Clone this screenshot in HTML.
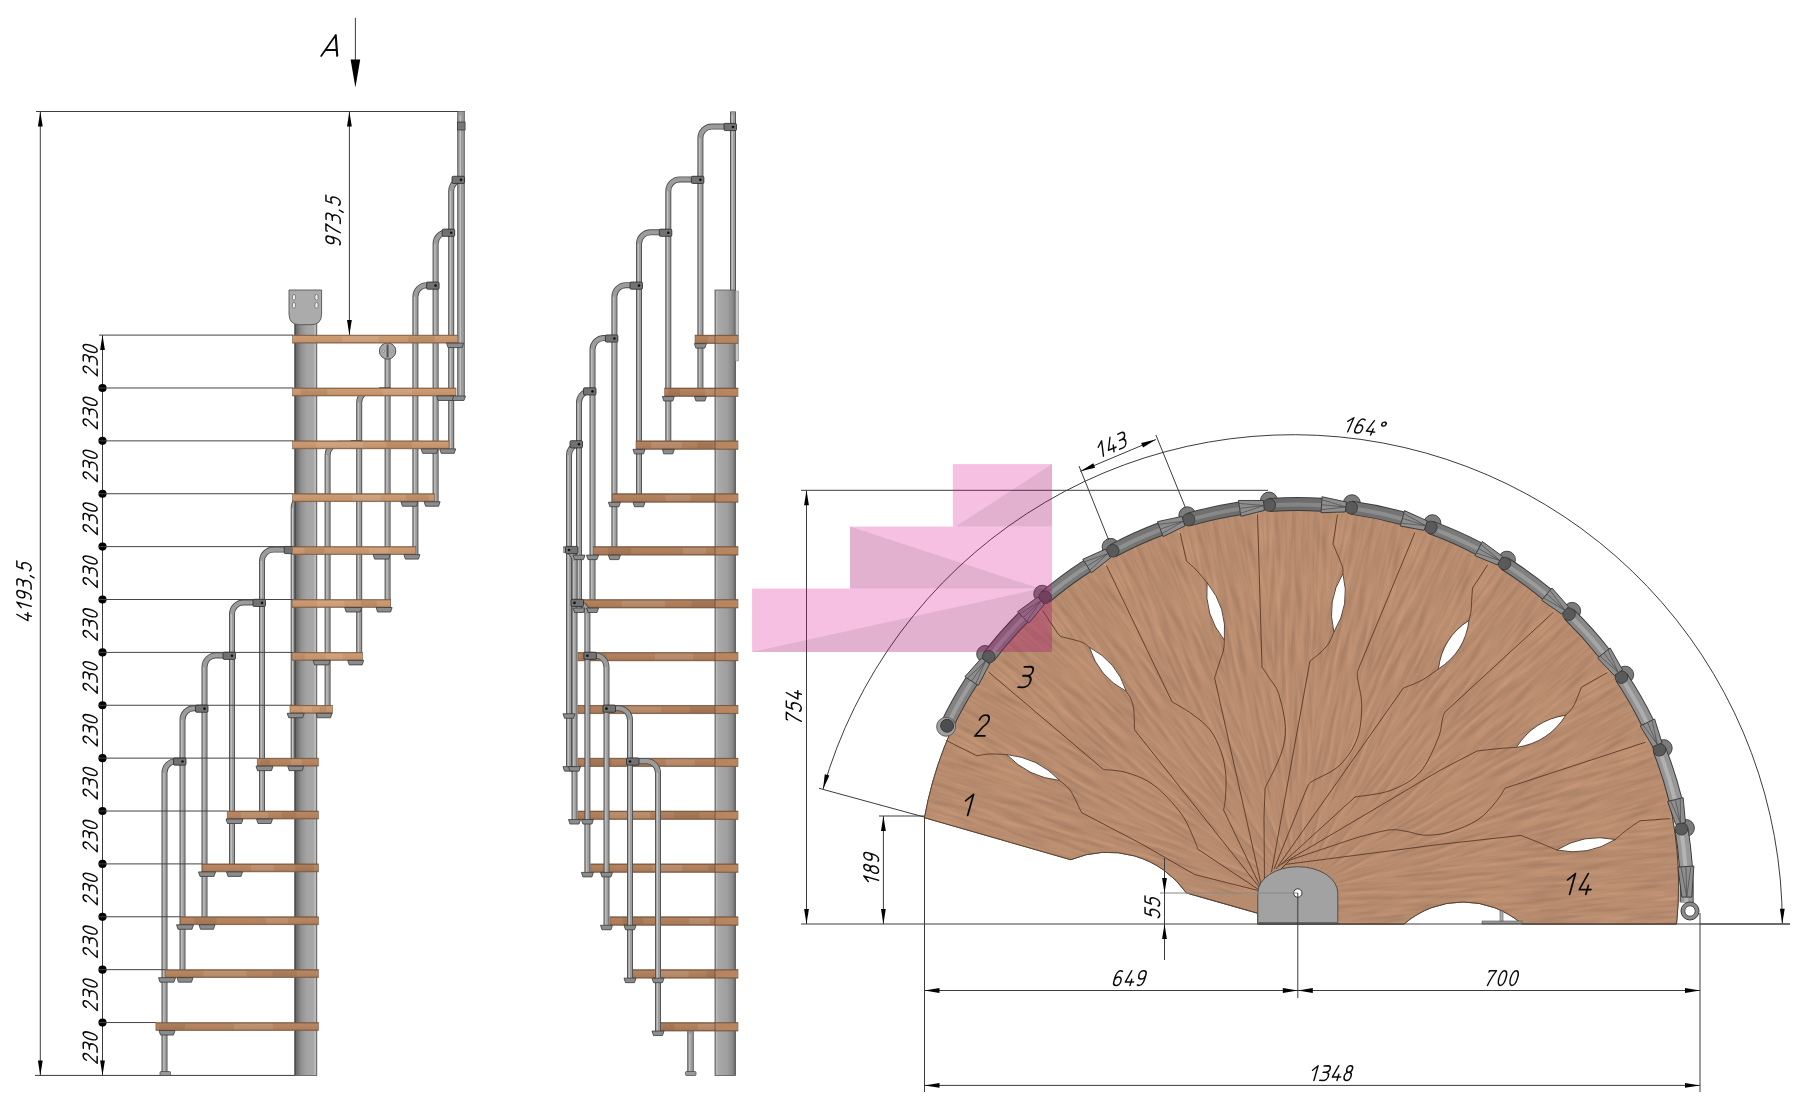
<!DOCTYPE html><html><head><meta charset="utf-8"><title>Spiral staircase drawing</title><style>html,body{margin:0;padding:0;background:#fff;overflow:hidden;font-family:"Liberation Sans",sans-serif}svg{display:block}</style></head><body><svg width="1800" height="1113" viewBox="0 0 1800 1113"><defs>
<linearGradient id="gpole" x1="0" x2="1" y1="0" y2="0">
 <stop offset="0" stop-color="#333"/><stop offset="0.07" stop-color="#6a6a6a"/>
 <stop offset="0.3" stop-color="#919191"/><stop offset="0.55" stop-color="#a4a4a4"/>
 <stop offset="0.86" stop-color="#a8a8a8"/><stop offset="0.9" stop-color="#bababa"/>
 <stop offset="0.96" stop-color="#b6b6b6"/><stop offset="1" stop-color="#666"/>
</linearGradient>
<linearGradient id="gpole2" x1="0" x2="1" y1="0" y2="0">
 <stop offset="0" stop-color="#6a6a6a"/><stop offset="0.05" stop-color="#bcbcbc"/>
 <stop offset="0.16" stop-color="#a9a9a9"/><stop offset="0.6" stop-color="#9e9e9e"/>
 <stop offset="0.85" stop-color="#8a8a8a"/><stop offset="0.95" stop-color="#737373"/>
 <stop offset="1" stop-color="#3e3e3e"/>
</linearGradient>
<linearGradient id="grod" x1="0" x2="1" y1="0" y2="0">
 <stop offset="0" stop-color="#555"/><stop offset="0.25" stop-color="#9c9c9c"/>
 <stop offset="0.5" stop-color="#c4c4c4"/><stop offset="0.8" stop-color="#8e8e8e"/>
 <stop offset="1" stop-color="#4a4a4a"/>
</linearGradient>
<linearGradient id="gstep" x1="0" x2="0" y1="0" y2="1">
 <stop offset="0" stop-color="#7e5a3e"/><stop offset="0.18" stop-color="#cc9b72"/>
 <stop offset="0.8" stop-color="#c4936b"/><stop offset="1" stop-color="#8a6446"/>
</linearGradient>
<linearGradient id="gstep3" x1="0" x2="0" y1="0" y2="1">
 <stop offset="0" stop-color="#6e4d35"/><stop offset="0.18" stop-color="#b88762"/>
 <stop offset="0.8" stop-color="#b0805c"/><stop offset="1" stop-color="#7c5a40"/>
</linearGradient>
<linearGradient id="gstep2" x1="0" x2="0" y1="0" y2="1">
 <stop offset="0" stop-color="#684832"/><stop offset="0.18" stop-color="#b3835f"/>
 <stop offset="0.8" stop-color="#ab7b59"/><stop offset="1" stop-color="#78563e"/>
</linearGradient>
<linearGradient id="grail" gradientUnits="userSpaceOnUse" x1="920" y1="0" x2="1710" y2="0">
 <stop offset="0" stop-color="#858585"/><stop offset="0.45" stop-color="#6a6a6a"/>
 <stop offset="0.75" stop-color="#7e7e7e"/><stop offset="1" stop-color="#9c9c9c"/>
</linearGradient>
<linearGradient id="grailh" gradientUnits="userSpaceOnUse" x1="920" y1="0" x2="1710" y2="0">
 <stop offset="0" stop-color="#a0a0a0"/><stop offset="0.45" stop-color="#838383"/>
 <stop offset="0.75" stop-color="#989898"/><stop offset="1" stop-color="#b8b8b8"/>
</linearGradient>
</defs><line x1="36.00" y1="111.50" x2="464.70" y2="111.50" stroke="#3c3c3c" stroke-width="1.0"/><line x1="40.30" y1="111.50" x2="40.30" y2="1075.42" stroke="#3c3c3c" stroke-width="1.0"/><polygon points="40.30,111.50 42.70,126.50 37.90,126.50" fill="#000"/><polygon points="40.30,1075.42 37.90,1060.42 42.70,1060.42" fill="#000"/><g fill="none" stroke="#0a0a0a" stroke-width="1.049" stroke-linecap="round" stroke-linejoin="round" transform="rotate(-90 24.00 591.00)"><path d="M2.2,10 L0,2.3 L5.6,2.3 M3.8,4.3 L3.8,0" transform="matrix(1.4300,0,0.4004,-1.4300,-6.60,598.15)"/><path d="M0,7.0 L2.9,10 L2.9,0" transform="matrix(1.4300,0,0.4004,-1.4300,4.70,598.15)"/><path d="M0.8,0.4 C1.2,0.1 1.7,0 2.2,0 C3.8,0 4.7,2 4.7,5 L4.7,7.3 C4.7,9 3.7,10 2.4,10 C1,10 0,9 0,7.3 C0,5.6 1,4.4 2.3,4.4 C3.6,4.4 4.6,5.3 4.7,6.7" transform="matrix(1.4300,0,0.4004,-1.4300,14.56,598.15)"/><path d="M0.1,9.9 L2.7,10 C4.1,10 4.8,9 4.8,7.8 C4.8,6.5 3.8,5.6 2.4,5.6 L0.7,5.6 M2.4,5.6 C4,5.6 5,4.5 5,2.8 C5,1 3.8,0 2.2,0 L-0.1,0.1" transform="matrix(1.4300,0,0.4004,-1.4300,25.86,598.15)"/><path d="M1.3,0.6 L0.5,-2" transform="matrix(1.4300,0,0.4004,-1.4300,37.16,598.15)"/><path d="M0.5,10 L0.2,5.7 C0.8,6.3 1.6,6.6 2.4,6.6 C3.8,6.6 4.8,5.3 4.8,3.3 C4.8,1.3 3.7,0 2.3,0 C1.3,0 0.5,0.4 0,1.1 M0.5,10 L4.4,10" transform="matrix(1.4300,0,0.4004,-1.4300,43.73,598.15)"/></g><line x1="35.00" y1="1075.42" x2="295.00" y2="1075.42" stroke="#3c3c3c" stroke-width="1.0"/><line x1="102.50" y1="335.10" x2="102.50" y2="1075.42" stroke="#3c3c3c" stroke-width="1.0"/><polygon points="102.50,335.10 104.90,350.10 100.10,350.10" fill="#000"/><polygon points="102.50,1075.42 100.10,1060.42 104.90,1060.42" fill="#000"/><circle cx="102.50" cy="387.98" r="4.1" fill="#000"/><circle cx="102.50" cy="440.86" r="4.1" fill="#000"/><circle cx="102.50" cy="493.74" r="4.1" fill="#000"/><circle cx="102.50" cy="546.62" r="4.1" fill="#000"/><circle cx="102.50" cy="599.50" r="4.1" fill="#000"/><circle cx="102.50" cy="652.38" r="4.1" fill="#000"/><circle cx="102.50" cy="705.26" r="4.1" fill="#000"/><circle cx="102.50" cy="758.14" r="4.1" fill="#000"/><circle cx="102.50" cy="811.02" r="4.1" fill="#000"/><circle cx="102.50" cy="863.90" r="4.1" fill="#000"/><circle cx="102.50" cy="916.78" r="4.1" fill="#000"/><circle cx="102.50" cy="969.66" r="4.1" fill="#000"/><circle cx="102.50" cy="1022.54" r="4.1" fill="#000"/><g fill="none" stroke="#0a0a0a" stroke-width="1.071" stroke-linecap="round" stroke-linejoin="round" transform="rotate(-90 90.15 359.54)"><path d="M0.1,7.7 C0.3,9.2 1.2,10 2.4,10 C3.7,10 4.6,9.1 4.6,7.7 C4.6,6.5 3.9,5.6 2.9,4.6 L0,0 L4.8,0" transform="matrix(1.4000,0,0.3920,-1.4000,73.84,366.54)"/><path d="M0.1,9.9 L2.7,10 C4.1,10 4.8,9 4.8,7.8 C4.8,6.5 3.8,5.6 2.4,5.6 L0.7,5.6 M2.4,5.6 C4,5.6 5,4.5 5,2.8 C5,1 3.8,0 2.2,0 L-0.1,0.1" transform="matrix(1.4000,0,0.3920,-1.4000,84.90,366.54)"/><path d="M2.35,10 C1,10 0,8 0,5 C0,2 1,0 2.35,0 C3.7,0 4.7,2 4.7,5 C4.7,8 3.7,10 2.35,10 Z" transform="matrix(1.4000,0,0.3920,-1.4000,95.96,366.54)"/></g><g fill="none" stroke="#0a0a0a" stroke-width="1.071" stroke-linecap="round" stroke-linejoin="round" transform="rotate(-90 90.15 412.42)"><path d="M0.1,7.7 C0.3,9.2 1.2,10 2.4,10 C3.7,10 4.6,9.1 4.6,7.7 C4.6,6.5 3.9,5.6 2.9,4.6 L0,0 L4.8,0" transform="matrix(1.4000,0,0.3920,-1.4000,73.84,419.42)"/><path d="M0.1,9.9 L2.7,10 C4.1,10 4.8,9 4.8,7.8 C4.8,6.5 3.8,5.6 2.4,5.6 L0.7,5.6 M2.4,5.6 C4,5.6 5,4.5 5,2.8 C5,1 3.8,0 2.2,0 L-0.1,0.1" transform="matrix(1.4000,0,0.3920,-1.4000,84.90,419.42)"/><path d="M2.35,10 C1,10 0,8 0,5 C0,2 1,0 2.35,0 C3.7,0 4.7,2 4.7,5 C4.7,8 3.7,10 2.35,10 Z" transform="matrix(1.4000,0,0.3920,-1.4000,95.96,419.42)"/></g><g fill="none" stroke="#0a0a0a" stroke-width="1.071" stroke-linecap="round" stroke-linejoin="round" transform="rotate(-90 90.15 465.30)"><path d="M0.1,7.7 C0.3,9.2 1.2,10 2.4,10 C3.7,10 4.6,9.1 4.6,7.7 C4.6,6.5 3.9,5.6 2.9,4.6 L0,0 L4.8,0" transform="matrix(1.4000,0,0.3920,-1.4000,73.84,472.30)"/><path d="M0.1,9.9 L2.7,10 C4.1,10 4.8,9 4.8,7.8 C4.8,6.5 3.8,5.6 2.4,5.6 L0.7,5.6 M2.4,5.6 C4,5.6 5,4.5 5,2.8 C5,1 3.8,0 2.2,0 L-0.1,0.1" transform="matrix(1.4000,0,0.3920,-1.4000,84.90,472.30)"/><path d="M2.35,10 C1,10 0,8 0,5 C0,2 1,0 2.35,0 C3.7,0 4.7,2 4.7,5 C4.7,8 3.7,10 2.35,10 Z" transform="matrix(1.4000,0,0.3920,-1.4000,95.96,472.30)"/></g><g fill="none" stroke="#0a0a0a" stroke-width="1.071" stroke-linecap="round" stroke-linejoin="round" transform="rotate(-90 90.15 518.18)"><path d="M0.1,7.7 C0.3,9.2 1.2,10 2.4,10 C3.7,10 4.6,9.1 4.6,7.7 C4.6,6.5 3.9,5.6 2.9,4.6 L0,0 L4.8,0" transform="matrix(1.4000,0,0.3920,-1.4000,73.84,525.18)"/><path d="M0.1,9.9 L2.7,10 C4.1,10 4.8,9 4.8,7.8 C4.8,6.5 3.8,5.6 2.4,5.6 L0.7,5.6 M2.4,5.6 C4,5.6 5,4.5 5,2.8 C5,1 3.8,0 2.2,0 L-0.1,0.1" transform="matrix(1.4000,0,0.3920,-1.4000,84.90,525.18)"/><path d="M2.35,10 C1,10 0,8 0,5 C0,2 1,0 2.35,0 C3.7,0 4.7,2 4.7,5 C4.7,8 3.7,10 2.35,10 Z" transform="matrix(1.4000,0,0.3920,-1.4000,95.96,525.18)"/></g><g fill="none" stroke="#0a0a0a" stroke-width="1.071" stroke-linecap="round" stroke-linejoin="round" transform="rotate(-90 90.15 571.06)"><path d="M0.1,7.7 C0.3,9.2 1.2,10 2.4,10 C3.7,10 4.6,9.1 4.6,7.7 C4.6,6.5 3.9,5.6 2.9,4.6 L0,0 L4.8,0" transform="matrix(1.4000,0,0.3920,-1.4000,73.84,578.06)"/><path d="M0.1,9.9 L2.7,10 C4.1,10 4.8,9 4.8,7.8 C4.8,6.5 3.8,5.6 2.4,5.6 L0.7,5.6 M2.4,5.6 C4,5.6 5,4.5 5,2.8 C5,1 3.8,0 2.2,0 L-0.1,0.1" transform="matrix(1.4000,0,0.3920,-1.4000,84.90,578.06)"/><path d="M2.35,10 C1,10 0,8 0,5 C0,2 1,0 2.35,0 C3.7,0 4.7,2 4.7,5 C4.7,8 3.7,10 2.35,10 Z" transform="matrix(1.4000,0,0.3920,-1.4000,95.96,578.06)"/></g><g fill="none" stroke="#0a0a0a" stroke-width="1.071" stroke-linecap="round" stroke-linejoin="round" transform="rotate(-90 90.15 623.94)"><path d="M0.1,7.7 C0.3,9.2 1.2,10 2.4,10 C3.7,10 4.6,9.1 4.6,7.7 C4.6,6.5 3.9,5.6 2.9,4.6 L0,0 L4.8,0" transform="matrix(1.4000,0,0.3920,-1.4000,73.84,630.94)"/><path d="M0.1,9.9 L2.7,10 C4.1,10 4.8,9 4.8,7.8 C4.8,6.5 3.8,5.6 2.4,5.6 L0.7,5.6 M2.4,5.6 C4,5.6 5,4.5 5,2.8 C5,1 3.8,0 2.2,0 L-0.1,0.1" transform="matrix(1.4000,0,0.3920,-1.4000,84.90,630.94)"/><path d="M2.35,10 C1,10 0,8 0,5 C0,2 1,0 2.35,0 C3.7,0 4.7,2 4.7,5 C4.7,8 3.7,10 2.35,10 Z" transform="matrix(1.4000,0,0.3920,-1.4000,95.96,630.94)"/></g><g fill="none" stroke="#0a0a0a" stroke-width="1.071" stroke-linecap="round" stroke-linejoin="round" transform="rotate(-90 90.15 676.82)"><path d="M0.1,7.7 C0.3,9.2 1.2,10 2.4,10 C3.7,10 4.6,9.1 4.6,7.7 C4.6,6.5 3.9,5.6 2.9,4.6 L0,0 L4.8,0" transform="matrix(1.4000,0,0.3920,-1.4000,73.84,683.82)"/><path d="M0.1,9.9 L2.7,10 C4.1,10 4.8,9 4.8,7.8 C4.8,6.5 3.8,5.6 2.4,5.6 L0.7,5.6 M2.4,5.6 C4,5.6 5,4.5 5,2.8 C5,1 3.8,0 2.2,0 L-0.1,0.1" transform="matrix(1.4000,0,0.3920,-1.4000,84.90,683.82)"/><path d="M2.35,10 C1,10 0,8 0,5 C0,2 1,0 2.35,0 C3.7,0 4.7,2 4.7,5 C4.7,8 3.7,10 2.35,10 Z" transform="matrix(1.4000,0,0.3920,-1.4000,95.96,683.82)"/></g><g fill="none" stroke="#0a0a0a" stroke-width="1.071" stroke-linecap="round" stroke-linejoin="round" transform="rotate(-90 90.15 729.70)"><path d="M0.1,7.7 C0.3,9.2 1.2,10 2.4,10 C3.7,10 4.6,9.1 4.6,7.7 C4.6,6.5 3.9,5.6 2.9,4.6 L0,0 L4.8,0" transform="matrix(1.4000,0,0.3920,-1.4000,73.84,736.70)"/><path d="M0.1,9.9 L2.7,10 C4.1,10 4.8,9 4.8,7.8 C4.8,6.5 3.8,5.6 2.4,5.6 L0.7,5.6 M2.4,5.6 C4,5.6 5,4.5 5,2.8 C5,1 3.8,0 2.2,0 L-0.1,0.1" transform="matrix(1.4000,0,0.3920,-1.4000,84.90,736.70)"/><path d="M2.35,10 C1,10 0,8 0,5 C0,2 1,0 2.35,0 C3.7,0 4.7,2 4.7,5 C4.7,8 3.7,10 2.35,10 Z" transform="matrix(1.4000,0,0.3920,-1.4000,95.96,736.70)"/></g><g fill="none" stroke="#0a0a0a" stroke-width="1.071" stroke-linecap="round" stroke-linejoin="round" transform="rotate(-90 90.15 782.58)"><path d="M0.1,7.7 C0.3,9.2 1.2,10 2.4,10 C3.7,10 4.6,9.1 4.6,7.7 C4.6,6.5 3.9,5.6 2.9,4.6 L0,0 L4.8,0" transform="matrix(1.4000,0,0.3920,-1.4000,73.84,789.58)"/><path d="M0.1,9.9 L2.7,10 C4.1,10 4.8,9 4.8,7.8 C4.8,6.5 3.8,5.6 2.4,5.6 L0.7,5.6 M2.4,5.6 C4,5.6 5,4.5 5,2.8 C5,1 3.8,0 2.2,0 L-0.1,0.1" transform="matrix(1.4000,0,0.3920,-1.4000,84.90,789.58)"/><path d="M2.35,10 C1,10 0,8 0,5 C0,2 1,0 2.35,0 C3.7,0 4.7,2 4.7,5 C4.7,8 3.7,10 2.35,10 Z" transform="matrix(1.4000,0,0.3920,-1.4000,95.96,789.58)"/></g><g fill="none" stroke="#0a0a0a" stroke-width="1.071" stroke-linecap="round" stroke-linejoin="round" transform="rotate(-90 90.15 835.46)"><path d="M0.1,7.7 C0.3,9.2 1.2,10 2.4,10 C3.7,10 4.6,9.1 4.6,7.7 C4.6,6.5 3.9,5.6 2.9,4.6 L0,0 L4.8,0" transform="matrix(1.4000,0,0.3920,-1.4000,73.84,842.46)"/><path d="M0.1,9.9 L2.7,10 C4.1,10 4.8,9 4.8,7.8 C4.8,6.5 3.8,5.6 2.4,5.6 L0.7,5.6 M2.4,5.6 C4,5.6 5,4.5 5,2.8 C5,1 3.8,0 2.2,0 L-0.1,0.1" transform="matrix(1.4000,0,0.3920,-1.4000,84.90,842.46)"/><path d="M2.35,10 C1,10 0,8 0,5 C0,2 1,0 2.35,0 C3.7,0 4.7,2 4.7,5 C4.7,8 3.7,10 2.35,10 Z" transform="matrix(1.4000,0,0.3920,-1.4000,95.96,842.46)"/></g><g fill="none" stroke="#0a0a0a" stroke-width="1.071" stroke-linecap="round" stroke-linejoin="round" transform="rotate(-90 90.15 888.34)"><path d="M0.1,7.7 C0.3,9.2 1.2,10 2.4,10 C3.7,10 4.6,9.1 4.6,7.7 C4.6,6.5 3.9,5.6 2.9,4.6 L0,0 L4.8,0" transform="matrix(1.4000,0,0.3920,-1.4000,73.84,895.34)"/><path d="M0.1,9.9 L2.7,10 C4.1,10 4.8,9 4.8,7.8 C4.8,6.5 3.8,5.6 2.4,5.6 L0.7,5.6 M2.4,5.6 C4,5.6 5,4.5 5,2.8 C5,1 3.8,0 2.2,0 L-0.1,0.1" transform="matrix(1.4000,0,0.3920,-1.4000,84.90,895.34)"/><path d="M2.35,10 C1,10 0,8 0,5 C0,2 1,0 2.35,0 C3.7,0 4.7,2 4.7,5 C4.7,8 3.7,10 2.35,10 Z" transform="matrix(1.4000,0,0.3920,-1.4000,95.96,895.34)"/></g><g fill="none" stroke="#0a0a0a" stroke-width="1.071" stroke-linecap="round" stroke-linejoin="round" transform="rotate(-90 90.15 941.22)"><path d="M0.1,7.7 C0.3,9.2 1.2,10 2.4,10 C3.7,10 4.6,9.1 4.6,7.7 C4.6,6.5 3.9,5.6 2.9,4.6 L0,0 L4.8,0" transform="matrix(1.4000,0,0.3920,-1.4000,73.84,948.22)"/><path d="M0.1,9.9 L2.7,10 C4.1,10 4.8,9 4.8,7.8 C4.8,6.5 3.8,5.6 2.4,5.6 L0.7,5.6 M2.4,5.6 C4,5.6 5,4.5 5,2.8 C5,1 3.8,0 2.2,0 L-0.1,0.1" transform="matrix(1.4000,0,0.3920,-1.4000,84.90,948.22)"/><path d="M2.35,10 C1,10 0,8 0,5 C0,2 1,0 2.35,0 C3.7,0 4.7,2 4.7,5 C4.7,8 3.7,10 2.35,10 Z" transform="matrix(1.4000,0,0.3920,-1.4000,95.96,948.22)"/></g><g fill="none" stroke="#0a0a0a" stroke-width="1.071" stroke-linecap="round" stroke-linejoin="round" transform="rotate(-90 90.15 994.10)"><path d="M0.1,7.7 C0.3,9.2 1.2,10 2.4,10 C3.7,10 4.6,9.1 4.6,7.7 C4.6,6.5 3.9,5.6 2.9,4.6 L0,0 L4.8,0" transform="matrix(1.4000,0,0.3920,-1.4000,73.84,1001.10)"/><path d="M0.1,9.9 L2.7,10 C4.1,10 4.8,9 4.8,7.8 C4.8,6.5 3.8,5.6 2.4,5.6 L0.7,5.6 M2.4,5.6 C4,5.6 5,4.5 5,2.8 C5,1 3.8,0 2.2,0 L-0.1,0.1" transform="matrix(1.4000,0,0.3920,-1.4000,84.90,1001.10)"/><path d="M2.35,10 C1,10 0,8 0,5 C0,2 1,0 2.35,0 C3.7,0 4.7,2 4.7,5 C4.7,8 3.7,10 2.35,10 Z" transform="matrix(1.4000,0,0.3920,-1.4000,95.96,1001.10)"/></g><g fill="none" stroke="#0a0a0a" stroke-width="1.071" stroke-linecap="round" stroke-linejoin="round" transform="rotate(-90 90.15 1046.98)"><path d="M0.1,7.7 C0.3,9.2 1.2,10 2.4,10 C3.7,10 4.6,9.1 4.6,7.7 C4.6,6.5 3.9,5.6 2.9,4.6 L0,0 L4.8,0" transform="matrix(1.4000,0,0.3920,-1.4000,73.84,1053.98)"/><path d="M0.1,9.9 L2.7,10 C4.1,10 4.8,9 4.8,7.8 C4.8,6.5 3.8,5.6 2.4,5.6 L0.7,5.6 M2.4,5.6 C4,5.6 5,4.5 5,2.8 C5,1 3.8,0 2.2,0 L-0.1,0.1" transform="matrix(1.4000,0,0.3920,-1.4000,84.90,1053.98)"/><path d="M2.35,10 C1,10 0,8 0,5 C0,2 1,0 2.35,0 C3.7,0 4.7,2 4.7,5 C4.7,8 3.7,10 2.35,10 Z" transform="matrix(1.4000,0,0.3920,-1.4000,95.96,1053.98)"/></g><line x1="349.40" y1="111.50" x2="349.40" y2="335.10" stroke="#3c3c3c" stroke-width="1.0"/><polygon points="349.40,111.50 351.80,126.50 347.00,126.50" fill="#000"/><polygon points="349.40,335.10 347.00,320.10 351.80,320.10" fill="#000"/><g fill="none" stroke="#0a0a0a" stroke-width="1.049" stroke-linecap="round" stroke-linejoin="round" transform="rotate(-90 333.10 220.40)"><path d="M0.8,0.4 C1.2,0.1 1.7,0 2.2,0 C3.8,0 4.7,2 4.7,5 L4.7,7.3 C4.7,9 3.7,10 2.4,10 C1,10 0,9 0,7.3 C0,5.6 1,4.4 2.3,4.4 C3.6,4.4 4.6,5.3 4.7,6.7" transform="matrix(1.4300,0,0.4004,-1.4300,307.43,227.55)"/><path d="M0,9.2 L0,10 L4.8,10 C3.4,7 2.1,3.7 1.5,0" transform="matrix(1.4300,0,0.4004,-1.4300,318.73,227.55)"/><path d="M0.1,9.9 L2.7,10 C4.1,10 4.8,9 4.8,7.8 C4.8,6.5 3.8,5.6 2.4,5.6 L0.7,5.6 M2.4,5.6 C4,5.6 5,4.5 5,2.8 C5,1 3.8,0 2.2,0 L-0.1,0.1" transform="matrix(1.4300,0,0.4004,-1.4300,330.03,227.55)"/><path d="M1.3,0.6 L0.5,-2" transform="matrix(1.4300,0,0.4004,-1.4300,341.32,227.55)"/><path d="M0.5,10 L0.2,5.7 C0.8,6.3 1.6,6.6 2.4,6.6 C3.8,6.6 4.8,5.3 4.8,3.3 C4.8,1.3 3.7,0 2.3,0 C1.3,0 0.5,0.4 0,1.1 M0.5,10 L4.4,10" transform="matrix(1.4300,0,0.4004,-1.4300,347.90,227.55)"/></g><line x1="355.40" y1="17.80" x2="355.40" y2="62.00" stroke="#3c3c3c" stroke-width="1.0"/><polygon points="355.40,87.50 350.60,59.50 360.20,59.50" fill="#000"/><g fill="none" stroke="#0a0a0a" stroke-width="0.966" stroke-linecap="round" stroke-linejoin="round"><path d="M0,0 L4.16,10 L7.7,0 M1.16,2.8 L6.7,2.8" transform="matrix(2.0700,0,0.5796,-2.0700,321.28,55.80)"/></g><path d="M293.20,768.72 L293.20,507.74 A11.5,11.5 0 0 1 304.70,496.24 L327.60,496.24" fill="none" stroke="#4e4e4e" stroke-width="5.0" stroke-linecap="butt"/><path d="M293.20,768.72 L293.20,507.74 A11.5,11.5 0 0 1 304.70,496.24 L327.60,496.24" fill="none" stroke="#9c9c9c" stroke-width="3.20" stroke-linecap="butt"/><line x1="292.50" y1="507.74" x2="292.50" y2="768.72" stroke="#c4c4c4" stroke-width="1.2"/><rect x="294.70" y="318.00" width="22.10" height="757.42" fill="url(#gpole)" stroke="#555" stroke-width="0.8"/><path d="M289,290 L321.6,290 L321.6,314 Q321.6,324.7 311,324.7 L299.6,324.7 Q289,324.7 289,314 Z" fill="#ababab" stroke="#555" stroke-width="0.9"/><rect x="292.5" y="294.5" width="3" height="5.5" rx="1.5" fill="#eee" stroke="#555" stroke-width="0.6"/><rect x="292.5" y="302.5" width="3" height="5.5" rx="1.5" fill="#eee" stroke="#555" stroke-width="0.6"/><rect x="315.0" y="294.5" width="3" height="5.5" rx="1.5" fill="#eee" stroke="#555" stroke-width="0.6"/><rect x="315.0" y="302.5" width="3" height="5.5" rx="1.5" fill="#eee" stroke="#555" stroke-width="0.6"/><path d="M461.00,398.00 L461.00,111.50" fill="none" stroke="#4e4e4e" stroke-width="7.5" stroke-linecap="butt"/><path d="M461.00,398.00 L461.00,111.50" fill="none" stroke="#9c9c9c" stroke-width="5.70" stroke-linecap="butt"/><line x1="460.30" y1="115.25" x2="460.30" y2="398.00" stroke="#c4c4c4" stroke-width="1.2"/><rect x="457.6" y="122" width="7.5" height="8" fill="#777" stroke="#333" stroke-width="0.7"/><path d="M451.20,451.44 L451.20,190.96 A11.5,11.5 0 0 1 462.70,179.46 L461.00,179.46" fill="none" stroke="#4e4e4e" stroke-width="6" stroke-linecap="butt"/><path d="M451.20,451.44 L451.20,190.96 A11.5,11.5 0 0 1 462.70,179.46 L461.00,179.46" fill="none" stroke="#9c9c9c" stroke-width="4.20" stroke-linecap="butt"/><line x1="450.50" y1="190.96" x2="450.50" y2="451.44" stroke="#c4c4c4" stroke-width="1.2"/><rect x="452.00" y="176.26" width="12.50" height="7.20" rx="1.2" fill="#727272" stroke="#2a2a2a" stroke-width="0.8"/><circle cx="461.00" cy="179.86" r="1.3" fill="#111"/><path d="M435.60,504.32 L435.60,243.84 A11.5,11.5 0 0 1 447.10,232.34 L451.20,232.34" fill="none" stroke="#4e4e4e" stroke-width="6" stroke-linecap="butt"/><path d="M435.60,504.32 L435.60,243.84 A11.5,11.5 0 0 1 447.10,232.34 L451.20,232.34" fill="none" stroke="#9c9c9c" stroke-width="4.20" stroke-linecap="butt"/><line x1="434.90" y1="243.84" x2="434.90" y2="504.32" stroke="#c4c4c4" stroke-width="1.2"/><rect x="442.20" y="229.14" width="12.50" height="7.20" rx="1.2" fill="#727272" stroke="#2a2a2a" stroke-width="0.8"/><circle cx="451.20" cy="232.74" r="1.3" fill="#111"/><path d="M415.40,557.20 L415.40,296.72 A11.5,11.5 0 0 1 426.90,285.22 L435.60,285.22" fill="none" stroke="#4e4e4e" stroke-width="6" stroke-linecap="butt"/><path d="M415.40,557.20 L415.40,296.72 A11.5,11.5 0 0 1 426.90,285.22 L435.60,285.22" fill="none" stroke="#9c9c9c" stroke-width="4.20" stroke-linecap="butt"/><line x1="414.70" y1="296.72" x2="414.70" y2="557.20" stroke="#c4c4c4" stroke-width="1.2"/><rect x="426.60" y="282.02" width="12.50" height="7.20" rx="1.2" fill="#727272" stroke="#2a2a2a" stroke-width="0.8"/><circle cx="435.60" cy="285.62" r="1.3" fill="#111"/><path d="M387.60,610.08 L387.60,351.00" fill="none" stroke="#4e4e4e" stroke-width="6" stroke-linecap="butt"/><path d="M387.60,610.08 L387.60,351.00" fill="none" stroke="#9c9c9c" stroke-width="4.20" stroke-linecap="butt"/><line x1="386.90" y1="354.00" x2="386.90" y2="610.08" stroke="#c4c4c4" stroke-width="1.2"/><circle cx="387.6" cy="351" r="8.2" fill="#a9a9a9" stroke="#444" stroke-width="0.9"/><rect x="386.6" y="344.5" width="2" height="13" fill="#555"/><circle cx="383.3" cy="351" r="1.1" fill="#eee" stroke="#444" stroke-width="0.4"/><circle cx="391.90000000000003" cy="351" r="1.1" fill="#eee" stroke="#444" stroke-width="0.4"/><path d="M359.20,662.96 L359.20,402.48 A11.5,11.5 0 0 1 370.70,390.98 L387.60,390.98" fill="none" stroke="#4e4e4e" stroke-width="6" stroke-linecap="butt"/><path d="M359.20,662.96 L359.20,402.48 A11.5,11.5 0 0 1 370.70,390.98 L387.60,390.98" fill="none" stroke="#9c9c9c" stroke-width="4.20" stroke-linecap="butt"/><line x1="358.50" y1="402.48" x2="358.50" y2="662.96" stroke="#c4c4c4" stroke-width="1.2"/><rect x="378.60" y="387.78" width="12.50" height="7.20" rx="1.2" fill="#727272" stroke="#2a2a2a" stroke-width="0.8"/><circle cx="387.60" cy="391.38" r="1.3" fill="#111"/><path d="M327.60,715.84 L327.60,455.36 A11.5,11.5 0 0 1 339.10,443.86 L359.20,443.86" fill="none" stroke="#4e4e4e" stroke-width="6" stroke-linecap="butt"/><path d="M327.60,715.84 L327.60,455.36 A11.5,11.5 0 0 1 339.10,443.86 L359.20,443.86" fill="none" stroke="#9c9c9c" stroke-width="4.20" stroke-linecap="butt"/><line x1="326.90" y1="455.36" x2="326.90" y2="715.84" stroke="#c4c4c4" stroke-width="1.2"/><rect x="350.20" y="440.66" width="12.50" height="7.20" rx="1.2" fill="#727272" stroke="#2a2a2a" stroke-width="0.8"/><circle cx="359.20" cy="444.26" r="1.3" fill="#111"/><path d="M262.00,821.60 L262.00,561.12 A11.5,11.5 0 0 1 273.50,549.62 L293.20,549.62" fill="none" stroke="#4e4e4e" stroke-width="6" stroke-linecap="butt"/><path d="M262.00,821.60 L262.00,561.12 A11.5,11.5 0 0 1 273.50,549.62 L293.20,549.62" fill="none" stroke="#9c9c9c" stroke-width="4.20" stroke-linecap="butt"/><line x1="261.30" y1="561.12" x2="261.30" y2="821.60" stroke="#c4c4c4" stroke-width="1.2"/><rect x="284.20" y="546.42" width="12.50" height="7.20" rx="1.2" fill="#727272" stroke="#2a2a2a" stroke-width="0.8"/><circle cx="293.20" cy="550.02" r="1.3" fill="#111"/><path d="M232.00,874.48 L232.00,614.00 A11.5,11.5 0 0 1 243.50,602.50 L262.00,602.50" fill="none" stroke="#4e4e4e" stroke-width="6" stroke-linecap="butt"/><path d="M232.00,874.48 L232.00,614.00 A11.5,11.5 0 0 1 243.50,602.50 L262.00,602.50" fill="none" stroke="#9c9c9c" stroke-width="4.20" stroke-linecap="butt"/><line x1="231.30" y1="614.00" x2="231.30" y2="874.48" stroke="#c4c4c4" stroke-width="1.2"/><rect x="253.00" y="599.30" width="12.50" height="7.20" rx="1.2" fill="#727272" stroke="#2a2a2a" stroke-width="0.8"/><circle cx="262.00" cy="602.90" r="1.3" fill="#111"/><path d="M204.50,927.36 L204.50,666.88 A11.5,11.5 0 0 1 216.00,655.38 L232.00,655.38" fill="none" stroke="#4e4e4e" stroke-width="6" stroke-linecap="butt"/><path d="M204.50,927.36 L204.50,666.88 A11.5,11.5 0 0 1 216.00,655.38 L232.00,655.38" fill="none" stroke="#9c9c9c" stroke-width="4.20" stroke-linecap="butt"/><line x1="203.80" y1="666.88" x2="203.80" y2="927.36" stroke="#c4c4c4" stroke-width="1.2"/><rect x="223.00" y="652.18" width="12.50" height="7.20" rx="1.2" fill="#727272" stroke="#2a2a2a" stroke-width="0.8"/><circle cx="232.00" cy="655.78" r="1.3" fill="#111"/><path d="M182.50,980.24 L182.50,719.76 A11.5,11.5 0 0 1 194.00,708.26 L204.50,708.26" fill="none" stroke="#4e4e4e" stroke-width="6" stroke-linecap="butt"/><path d="M182.50,980.24 L182.50,719.76 A11.5,11.5 0 0 1 194.00,708.26 L204.50,708.26" fill="none" stroke="#9c9c9c" stroke-width="4.20" stroke-linecap="butt"/><line x1="181.80" y1="719.76" x2="181.80" y2="980.24" stroke="#c4c4c4" stroke-width="1.2"/><rect x="195.50" y="705.06" width="12.50" height="7.20" rx="1.2" fill="#727272" stroke="#2a2a2a" stroke-width="0.8"/><circle cx="204.50" cy="708.66" r="1.3" fill="#111"/><path d="M164.50,1072.42 L164.50,772.64 A11.5,11.5 0 0 1 176.00,761.14 L182.50,761.14" fill="none" stroke="#4e4e4e" stroke-width="6" stroke-linecap="butt"/><path d="M164.50,1072.42 L164.50,772.64 A11.5,11.5 0 0 1 176.00,761.14 L182.50,761.14" fill="none" stroke="#9c9c9c" stroke-width="4.20" stroke-linecap="butt"/><line x1="163.80" y1="772.64" x2="163.80" y2="1072.42" stroke="#c4c4c4" stroke-width="1.2"/><rect x="173.50" y="757.94" width="12.50" height="7.20" rx="1.2" fill="#727272" stroke="#2a2a2a" stroke-width="0.8"/><circle cx="182.50" cy="761.54" r="1.3" fill="#111"/><rect x="160" y="1071.5" width="10.5" height="4" rx="1" fill="#9a9a9a" stroke="#444" stroke-width="0.7"/><line x1="99.00" y1="335.10" x2="293.00" y2="335.10" stroke="#444" stroke-width="1.0"/><line x1="99.00" y1="387.98" x2="293.00" y2="387.98" stroke="#444" stroke-width="1.0"/><line x1="99.00" y1="440.86" x2="293.00" y2="440.86" stroke="#444" stroke-width="1.0"/><line x1="99.00" y1="493.74" x2="293.00" y2="493.74" stroke="#444" stroke-width="1.0"/><line x1="99.00" y1="546.62" x2="293.00" y2="546.62" stroke="#444" stroke-width="1.0"/><line x1="99.00" y1="599.50" x2="293.00" y2="599.50" stroke="#444" stroke-width="1.0"/><line x1="99.00" y1="652.38" x2="293.00" y2="652.38" stroke="#444" stroke-width="1.0"/><line x1="99.00" y1="705.26" x2="293.00" y2="705.26" stroke="#444" stroke-width="1.0"/><line x1="99.00" y1="758.14" x2="257.20" y2="758.14" stroke="#444" stroke-width="1.0"/><line x1="99.00" y1="811.02" x2="227.20" y2="811.02" stroke="#444" stroke-width="1.0"/><line x1="99.00" y1="863.90" x2="202.30" y2="863.90" stroke="#444" stroke-width="1.0"/><line x1="99.00" y1="916.78" x2="180.80" y2="916.78" stroke="#444" stroke-width="1.0"/><line x1="99.00" y1="969.66" x2="165.20" y2="969.66" stroke="#444" stroke-width="1.0"/><line x1="99.00" y1="1022.54" x2="155.90" y2="1022.54" stroke="#444" stroke-width="1.0"/><rect x="292.60" y="335.10" width="165.30" height="8.0" fill="url(#gstep)" stroke="#7a5a45" stroke-width="0.6"/><rect x="342.19" y="336.30" width="36.37" height="5.60" fill="#fff" fill-opacity="0.10"/><rect x="408.31" y="336.30" width="26.45" height="5.60" fill="#000" fill-opacity="0.07"/><rect x="292.60" y="387.98" width="163.40" height="8.0" fill="url(#gstep)" stroke="#7a5a45" stroke-width="0.6"/><rect x="382.47" y="389.18" width="29.41" height="5.60" fill="#fff" fill-opacity="0.10"/><rect x="300.77" y="389.18" width="26.14" height="5.60" fill="#000" fill-opacity="0.07"/><rect x="292.60" y="440.86" width="156.40" height="8.0" fill="url(#gstep)" stroke="#7a5a45" stroke-width="0.6"/><rect x="316.06" y="442.06" width="46.92" height="5.60" fill="#fff" fill-opacity="0.10"/><rect x="386.44" y="442.06" width="25.02" height="5.60" fill="#000" fill-opacity="0.07"/><rect x="292.60" y="493.74" width="142.00" height="8.0" fill="url(#gstep)" stroke="#7a5a45" stroke-width="0.6"/><rect x="352.24" y="494.94" width="28.40" height="5.60" fill="#fff" fill-opacity="0.10"/><rect x="406.20" y="494.94" width="22.72" height="5.60" fill="#000" fill-opacity="0.07"/><rect x="292.20" y="546.62" width="123.60" height="8.0" fill="url(#gstep)" stroke="#7a5a45" stroke-width="0.6"/><rect x="368.83" y="547.82" width="19.78" height="5.60" fill="#fff" fill-opacity="0.10"/><rect x="304.56" y="547.82" width="19.78" height="5.60" fill="#000" fill-opacity="0.07"/><rect x="292.20" y="599.50" width="98.40" height="8.0" fill="url(#gstep)" stroke="#7a5a45" stroke-width="0.6"/><rect x="316.80" y="600.70" width="27.55" height="5.60" fill="#fff" fill-opacity="0.10"/><rect x="361.08" y="600.70" width="15.74" height="5.60" fill="#000" fill-opacity="0.07"/><rect x="292.20" y="652.38" width="70.10" height="8.0" fill="url(#gstep)" stroke="#7a5a45" stroke-width="0.6"/><rect x="325.85" y="653.58" width="16.82" height="5.60" fill="#fff" fill-opacity="0.10"/><rect x="293.60" y="653.58" width="11.22" height="5.60" fill="#000" fill-opacity="0.07"/><rect x="290.00" y="705.26" width="42.40" height="8.0" fill="url(#gstep)" stroke="#7a5a45" stroke-width="0.6"/><rect x="302.72" y="706.46" width="9.33" height="5.60" fill="#fff" fill-opacity="0.10"/><rect x="319.68" y="706.46" width="6.78" height="5.60" fill="#000" fill-opacity="0.07"/><rect x="257.20" y="758.14" width="61.20" height="8.0" fill="url(#gstep3)" stroke="#7a5a45" stroke-width="0.6"/><rect x="290.86" y="759.34" width="11.02" height="5.60" fill="#fff" fill-opacity="0.10"/><rect x="260.26" y="759.34" width="9.79" height="5.60" fill="#000" fill-opacity="0.07"/><rect x="227.20" y="811.02" width="91.20" height="8.0" fill="url(#gstep3)" stroke="#7a5a45" stroke-width="0.6"/><rect x="240.88" y="812.22" width="27.36" height="5.60" fill="#fff" fill-opacity="0.10"/><rect x="281.92" y="812.22" width="14.59" height="5.60" fill="#000" fill-opacity="0.07"/><rect x="202.30" y="863.90" width="116.10" height="8.0" fill="url(#gstep3)" stroke="#7a5a45" stroke-width="0.6"/><rect x="251.06" y="865.10" width="23.22" height="5.60" fill="#fff" fill-opacity="0.10"/><rect x="295.18" y="865.10" width="18.58" height="5.60" fill="#000" fill-opacity="0.07"/><rect x="180.80" y="916.78" width="137.60" height="8.0" fill="url(#gstep3)" stroke="#7a5a45" stroke-width="0.6"/><rect x="266.11" y="917.98" width="22.02" height="5.60" fill="#fff" fill-opacity="0.10"/><rect x="194.56" y="917.98" width="22.02" height="5.60" fill="#000" fill-opacity="0.07"/><rect x="165.20" y="969.66" width="153.20" height="8.0" fill="url(#gstep3)" stroke="#7a5a45" stroke-width="0.6"/><rect x="203.50" y="970.86" width="42.90" height="5.60" fill="#fff" fill-opacity="0.10"/><rect x="272.44" y="970.86" width="24.51" height="5.60" fill="#000" fill-opacity="0.07"/><rect x="155.90" y="1022.54" width="162.50" height="8.0" fill="url(#gstep3)" stroke="#7a5a45" stroke-width="0.6"/><rect x="233.90" y="1023.74" width="39.00" height="5.60" fill="#fff" fill-opacity="0.10"/><rect x="159.15" y="1023.74" width="26.00" height="5.60" fill="#000" fill-opacity="0.07"/><path d="M446.50,343.10 L463.50,343.10 L462.00,347.60 L448.00,347.60 Z" fill="#8c8c8c" stroke="#3a3a3a" stroke-width="0.8"/><path d="M449.50,395.98 L465.50,395.98 L464.00,400.48 L451.00,400.48 Z" fill="#8c8c8c" stroke="#3a3a3a" stroke-width="0.8"/><path d="M436.70,395.98 L453.70,395.98 L452.20,400.48 L438.20,400.48 Z" fill="#8c8c8c" stroke="#3a3a3a" stroke-width="0.8"/><path d="M439.70,448.86 L455.70,448.86 L454.20,453.36 L441.20,453.36 Z" fill="#8c8c8c" stroke="#3a3a3a" stroke-width="0.8"/><path d="M421.10,448.86 L438.10,448.86 L436.60,453.36 L422.60,453.36 Z" fill="#8c8c8c" stroke="#3a3a3a" stroke-width="0.8"/><path d="M424.10,501.74 L440.10,501.74 L438.60,506.24 L425.60,506.24 Z" fill="#8c8c8c" stroke="#3a3a3a" stroke-width="0.8"/><path d="M400.90,501.74 L417.90,501.74 L416.40,506.24 L402.40,506.24 Z" fill="#8c8c8c" stroke="#3a3a3a" stroke-width="0.8"/><path d="M403.90,554.62 L419.90,554.62 L418.40,559.12 L405.40,559.12 Z" fill="#8c8c8c" stroke="#3a3a3a" stroke-width="0.8"/><path d="M373.10,554.62 L390.10,554.62 L388.60,559.12 L374.60,559.12 Z" fill="#8c8c8c" stroke="#3a3a3a" stroke-width="0.8"/><path d="M376.10,607.50 L392.10,607.50 L390.60,612.00 L377.60,612.00 Z" fill="#8c8c8c" stroke="#3a3a3a" stroke-width="0.8"/><path d="M344.70,607.50 L361.70,607.50 L360.20,612.00 L346.20,612.00 Z" fill="#8c8c8c" stroke="#3a3a3a" stroke-width="0.8"/><path d="M347.70,660.38 L363.70,660.38 L362.20,664.88 L349.20,664.88 Z" fill="#8c8c8c" stroke="#3a3a3a" stroke-width="0.8"/><path d="M313.10,660.38 L330.10,660.38 L328.60,664.88 L314.60,664.88 Z" fill="#8c8c8c" stroke="#3a3a3a" stroke-width="0.8"/><path d="M316.10,713.26 L332.10,713.26 L330.60,717.76 L317.60,717.76 Z" fill="#8c8c8c" stroke="#3a3a3a" stroke-width="0.8"/><path d="M287.20,713.26 L304.20,713.26 L302.70,717.76 L288.70,717.76 Z" fill="#8c8c8c" stroke="#3a3a3a" stroke-width="0.8"/><path d="M287.70,766.14 L303.70,766.14 L302.20,770.64 L289.20,770.64 Z" fill="#8c8c8c" stroke="#3a3a3a" stroke-width="0.8"/><path d="M256.00,766.14 L273.00,766.14 L271.50,770.64 L257.50,770.64 Z" fill="#8c8c8c" stroke="#3a3a3a" stroke-width="0.8"/><path d="M256.50,819.02 L272.50,819.02 L271.00,823.52 L258.00,823.52 Z" fill="#8c8c8c" stroke="#3a3a3a" stroke-width="0.8"/><path d="M226.00,819.02 L243.00,819.02 L241.50,823.52 L227.50,823.52 Z" fill="#8c8c8c" stroke="#3a3a3a" stroke-width="0.8"/><path d="M226.50,871.90 L242.50,871.90 L241.00,876.40 L228.00,876.40 Z" fill="#8c8c8c" stroke="#3a3a3a" stroke-width="0.8"/><path d="M198.50,871.90 L215.50,871.90 L214.00,876.40 L200.00,876.40 Z" fill="#8c8c8c" stroke="#3a3a3a" stroke-width="0.8"/><path d="M199.00,924.78 L215.00,924.78 L213.50,929.28 L200.50,929.28 Z" fill="#8c8c8c" stroke="#3a3a3a" stroke-width="0.8"/><path d="M176.50,924.78 L193.50,924.78 L192.00,929.28 L178.00,929.28 Z" fill="#8c8c8c" stroke="#3a3a3a" stroke-width="0.8"/><path d="M177.00,977.66 L193.00,977.66 L191.50,982.16 L178.50,982.16 Z" fill="#8c8c8c" stroke="#3a3a3a" stroke-width="0.8"/><path d="M158.50,977.66 L175.50,977.66 L174.00,982.16 L160.00,982.16 Z" fill="#8c8c8c" stroke="#3a3a3a" stroke-width="0.8"/><path d="M159.00,1030.54 L175.00,1030.54 L173.50,1035.04 L160.50,1035.04 Z" fill="#8c8c8c" stroke="#3a3a3a" stroke-width="0.8"/><path d="M733.00,292.00 L733.00,111.50" fill="none" stroke="#4e4e4e" stroke-width="6.0" stroke-linecap="butt"/><path d="M733.00,292.00 L733.00,111.50" fill="none" stroke="#9c9c9c" stroke-width="4.20" stroke-linecap="butt"/><line x1="732.30" y1="114.50" x2="732.30" y2="292.00" stroke="#c4c4c4" stroke-width="1.2"/><path d="M700.40,396.48 L700.40,138.08 A11.5,11.5 0 0 1 711.90,126.58 L733.00,126.58" fill="none" stroke="#4e4e4e" stroke-width="6.0" stroke-linecap="butt"/><path d="M700.40,396.48 L700.40,138.08 A11.5,11.5 0 0 1 711.90,126.58 L733.00,126.58" fill="none" stroke="#9c9c9c" stroke-width="4.20" stroke-linecap="butt"/><line x1="699.70" y1="138.08" x2="699.70" y2="396.48" stroke="#c4c4c4" stroke-width="1.2"/><rect x="724.00" y="123.38" width="12.50" height="7.20" rx="1.2" fill="#727272" stroke="#2a2a2a" stroke-width="0.8"/><circle cx="733.00" cy="126.98" r="1.3" fill="#111"/><path d="M668.30,449.36 L668.30,190.96 A11.5,11.5 0 0 1 679.80,179.46 L700.40,179.46" fill="none" stroke="#4e4e4e" stroke-width="6.0" stroke-linecap="butt"/><path d="M668.30,449.36 L668.30,190.96 A11.5,11.5 0 0 1 679.80,179.46 L700.40,179.46" fill="none" stroke="#9c9c9c" stroke-width="4.20" stroke-linecap="butt"/><line x1="667.60" y1="190.96" x2="667.60" y2="449.36" stroke="#c4c4c4" stroke-width="1.2"/><rect x="691.40" y="176.26" width="12.50" height="7.20" rx="1.2" fill="#727272" stroke="#2a2a2a" stroke-width="0.8"/><circle cx="700.40" cy="179.86" r="1.3" fill="#111"/><path d="M639.00,502.24 L639.00,243.84 A11.5,11.5 0 0 1 650.50,232.34 L668.30,232.34" fill="none" stroke="#4e4e4e" stroke-width="6.0" stroke-linecap="butt"/><path d="M639.00,502.24 L639.00,243.84 A11.5,11.5 0 0 1 650.50,232.34 L668.30,232.34" fill="none" stroke="#9c9c9c" stroke-width="4.20" stroke-linecap="butt"/><line x1="638.30" y1="243.84" x2="638.30" y2="502.24" stroke="#c4c4c4" stroke-width="1.2"/><rect x="659.30" y="229.14" width="12.50" height="7.20" rx="1.2" fill="#727272" stroke="#2a2a2a" stroke-width="0.8"/><circle cx="668.30" cy="232.74" r="1.3" fill="#111"/><path d="M614.40,555.12 L614.40,296.72 A11.5,11.5 0 0 1 625.90,285.22 L639.00,285.22" fill="none" stroke="#4e4e4e" stroke-width="6.0" stroke-linecap="butt"/><path d="M614.40,555.12 L614.40,296.72 A11.5,11.5 0 0 1 625.90,285.22 L639.00,285.22" fill="none" stroke="#9c9c9c" stroke-width="4.20" stroke-linecap="butt"/><line x1="613.70" y1="296.72" x2="613.70" y2="555.12" stroke="#c4c4c4" stroke-width="1.2"/><rect x="630.00" y="282.02" width="12.50" height="7.20" rx="1.2" fill="#727272" stroke="#2a2a2a" stroke-width="0.8"/><circle cx="639.00" cy="285.62" r="1.3" fill="#111"/><path d="M592.50,608.00 L592.50,349.60 A11.5,11.5 0 0 1 604.00,338.10 L614.40,338.10" fill="none" stroke="#4e4e4e" stroke-width="6.0" stroke-linecap="butt"/><path d="M592.50,608.00 L592.50,349.60 A11.5,11.5 0 0 1 604.00,338.10 L614.40,338.10" fill="none" stroke="#9c9c9c" stroke-width="4.20" stroke-linecap="butt"/><line x1="591.80" y1="349.60" x2="591.80" y2="608.00" stroke="#c4c4c4" stroke-width="1.2"/><rect x="605.40" y="334.90" width="12.50" height="7.20" rx="1.2" fill="#727272" stroke="#2a2a2a" stroke-width="0.8"/><circle cx="614.40" cy="338.50" r="1.3" fill="#111"/><path d="M579.00,608.00 L579.00,402.48 A11.5,11.5 0 0 1 590.50,390.98 L592.50,390.98" fill="none" stroke="#4e4e4e" stroke-width="6.0" stroke-linecap="butt"/><path d="M579.00,608.00 L579.00,402.48 A11.5,11.5 0 0 1 590.50,390.98 L592.50,390.98" fill="none" stroke="#9c9c9c" stroke-width="4.20" stroke-linecap="butt"/><line x1="578.30" y1="402.48" x2="578.30" y2="608.00" stroke="#c4c4c4" stroke-width="1.2"/><rect x="583.50" y="387.78" width="12.50" height="7.20" rx="1.2" fill="#727272" stroke="#2a2a2a" stroke-width="0.8"/><circle cx="592.50" cy="391.38" r="1.3" fill="#111"/><path d="M569.00,766.64 L569.00,455.36 A11.5,11.5 0 0 1 580.50,443.86 L579.00,443.86" fill="none" stroke="#4e4e4e" stroke-width="6.0" stroke-linecap="butt"/><path d="M569.00,766.64 L569.00,455.36 A11.5,11.5 0 0 1 580.50,443.86 L579.00,443.86" fill="none" stroke="#9c9c9c" stroke-width="4.20" stroke-linecap="butt"/><line x1="568.30" y1="455.36" x2="568.30" y2="766.64" stroke="#c4c4c4" stroke-width="1.2"/><rect x="570.00" y="440.66" width="12.50" height="7.20" rx="1.2" fill="#727272" stroke="#2a2a2a" stroke-width="0.8"/><circle cx="579.00" cy="444.26" r="1.3" fill="#111"/><path d="M690.50,1072.42 L690.50,1030.54" fill="none" stroke="#4e4e4e" stroke-width="6.5" stroke-linecap="butt"/><path d="M690.50,1072.42 L690.50,1030.54" fill="none" stroke="#9c9c9c" stroke-width="4.70" stroke-linecap="butt"/><line x1="689.80" y1="1033.79" x2="689.80" y2="1072.42" stroke="#c4c4c4" stroke-width="1.2"/><rect x="685.5" y="1071.5" width="10.5" height="4" rx="1" fill="#9a9a9a" stroke="#444" stroke-width="0.7"/><rect x="715.00" y="290.00" width="20.50" height="785.42" fill="url(#gpole2)" stroke="#555" stroke-width="0.8"/><rect x="735.5" y="291" width="3" height="70" fill="#c8c8c8" stroke="#777" stroke-width="0.5"/><rect x="695.00" y="335.10" width="43.00" height="8.5" fill="url(#gstep2)" stroke="#7a5a45" stroke-width="0.6"/><rect x="707.90" y="336.30" width="9.46" height="6.10" fill="#fff" fill-opacity="0.10"/><rect x="725.10" y="336.30" width="6.88" height="6.10" fill="#000" fill-opacity="0.07"/><rect x="664.70" y="387.98" width="73.30" height="8.5" fill="url(#gstep2)" stroke="#7a5a45" stroke-width="0.6"/><rect x="705.01" y="389.18" width="13.19" height="6.10" fill="#fff" fill-opacity="0.10"/><rect x="668.37" y="389.18" width="11.73" height="6.10" fill="#000" fill-opacity="0.07"/><rect x="636.00" y="440.86" width="102.00" height="8.5" fill="url(#gstep2)" stroke="#7a5a45" stroke-width="0.6"/><rect x="651.30" y="442.06" width="30.60" height="6.10" fill="#fff" fill-opacity="0.10"/><rect x="697.20" y="442.06" width="16.32" height="6.10" fill="#000" fill-opacity="0.07"/><rect x="612.70" y="493.74" width="125.30" height="8.5" fill="url(#gstep2)" stroke="#7a5a45" stroke-width="0.6"/><rect x="665.33" y="494.94" width="25.06" height="6.10" fill="#fff" fill-opacity="0.10"/><rect x="712.94" y="494.94" width="20.05" height="6.10" fill="#000" fill-opacity="0.07"/><rect x="593.50" y="546.62" width="144.50" height="8.5" fill="url(#gstep2)" stroke="#7a5a45" stroke-width="0.6"/><rect x="683.09" y="547.82" width="23.12" height="6.10" fill="#fff" fill-opacity="0.10"/><rect x="607.95" y="547.82" width="23.12" height="6.10" fill="#000" fill-opacity="0.07"/><rect x="582.80" y="599.50" width="155.20" height="8.5" fill="url(#gstep2)" stroke="#7a5a45" stroke-width="0.6"/><rect x="621.60" y="600.70" width="43.46" height="6.10" fill="#fff" fill-opacity="0.10"/><rect x="691.44" y="600.70" width="24.83" height="6.10" fill="#000" fill-opacity="0.07"/><rect x="578.00" y="652.38" width="160.00" height="8.5" fill="url(#gstep2)" stroke="#7a5a45" stroke-width="0.6"/><rect x="654.80" y="653.58" width="38.40" height="6.10" fill="#fff" fill-opacity="0.10"/><rect x="581.20" y="653.58" width="25.60" height="6.10" fill="#000" fill-opacity="0.07"/><rect x="578.00" y="705.26" width="160.00" height="8.5" fill="url(#gstep2)" stroke="#7a5a45" stroke-width="0.6"/><rect x="626.00" y="706.46" width="35.20" height="6.10" fill="#fff" fill-opacity="0.10"/><rect x="690.00" y="706.46" width="25.60" height="6.10" fill="#000" fill-opacity="0.07"/><rect x="578.00" y="758.14" width="160.00" height="8.5" fill="url(#gstep2)" stroke="#7a5a45" stroke-width="0.6"/><rect x="666.00" y="759.34" width="28.80" height="6.10" fill="#fff" fill-opacity="0.10"/><rect x="586.00" y="759.34" width="25.60" height="6.10" fill="#000" fill-opacity="0.07"/><rect x="578.00" y="811.02" width="160.00" height="8.5" fill="url(#gstep2)" stroke="#7a5a45" stroke-width="0.6"/><rect x="602.00" y="812.22" width="48.00" height="6.10" fill="#fff" fill-opacity="0.10"/><rect x="674.00" y="812.22" width="25.60" height="6.10" fill="#000" fill-opacity="0.07"/><rect x="590.80" y="863.90" width="147.20" height="8.5" fill="url(#gstep2)" stroke="#7a5a45" stroke-width="0.6"/><rect x="652.62" y="865.10" width="29.44" height="6.10" fill="#fff" fill-opacity="0.10"/><rect x="708.56" y="865.10" width="23.55" height="6.10" fill="#000" fill-opacity="0.07"/><rect x="610.00" y="916.78" width="128.00" height="8.5" fill="url(#gstep2)" stroke="#7a5a45" stroke-width="0.6"/><rect x="689.36" y="917.98" width="20.48" height="6.10" fill="#fff" fill-opacity="0.10"/><rect x="622.80" y="917.98" width="20.48" height="6.10" fill="#000" fill-opacity="0.07"/><rect x="632.80" y="969.66" width="105.20" height="8.5" fill="url(#gstep2)" stroke="#7a5a45" stroke-width="0.6"/><rect x="659.10" y="970.86" width="29.46" height="6.10" fill="#fff" fill-opacity="0.10"/><rect x="706.44" y="970.86" width="16.83" height="6.10" fill="#000" fill-opacity="0.07"/><rect x="660.80" y="1022.54" width="77.20" height="8.5" fill="url(#gstep2)" stroke="#7a5a45" stroke-width="0.6"/><rect x="697.86" y="1023.74" width="18.53" height="6.10" fill="#fff" fill-opacity="0.10"/><rect x="662.34" y="1023.74" width="12.35" height="6.10" fill="#000" fill-opacity="0.07"/><rect x="715" y="336.10" width="22.6" height="6.6" fill="#b8865f" opacity="0.9"/><line x1="715" y1="335.10" x2="715" y2="343.60" stroke="#6b4a36" stroke-width="0.8"/><rect x="715" y="388.98" width="22.6" height="6.6" fill="#b8865f" opacity="0.9"/><line x1="715" y1="387.98" x2="715" y2="396.48" stroke="#6b4a36" stroke-width="0.8"/><rect x="715" y="441.86" width="22.6" height="6.6" fill="#b8865f" opacity="0.9"/><line x1="715" y1="440.86" x2="715" y2="449.36" stroke="#6b4a36" stroke-width="0.8"/><rect x="715" y="494.74" width="22.6" height="6.6" fill="#b8865f" opacity="0.9"/><line x1="715" y1="493.74" x2="715" y2="502.24" stroke="#6b4a36" stroke-width="0.8"/><rect x="715" y="547.62" width="22.6" height="6.6" fill="#b8865f" opacity="0.9"/><line x1="715" y1="546.62" x2="715" y2="555.12" stroke="#6b4a36" stroke-width="0.8"/><rect x="715" y="600.50" width="22.6" height="6.6" fill="#b8865f" opacity="0.9"/><line x1="715" y1="599.50" x2="715" y2="608.00" stroke="#6b4a36" stroke-width="0.8"/><rect x="715" y="653.38" width="22.6" height="6.6" fill="#b8865f" opacity="0.9"/><line x1="715" y1="652.38" x2="715" y2="660.88" stroke="#6b4a36" stroke-width="0.8"/><rect x="715" y="706.26" width="22.6" height="6.6" fill="#b8865f" opacity="0.9"/><line x1="715" y1="705.26" x2="715" y2="713.76" stroke="#6b4a36" stroke-width="0.8"/><rect x="715" y="759.14" width="22.6" height="6.6" fill="#b8865f" opacity="0.9"/><line x1="715" y1="758.14" x2="715" y2="766.64" stroke="#6b4a36" stroke-width="0.8"/><rect x="715" y="812.02" width="22.6" height="6.6" fill="#b8865f" opacity="0.9"/><line x1="715" y1="811.02" x2="715" y2="819.52" stroke="#6b4a36" stroke-width="0.8"/><rect x="715" y="864.90" width="22.6" height="6.6" fill="#b8865f" opacity="0.9"/><line x1="715" y1="863.90" x2="715" y2="872.40" stroke="#6b4a36" stroke-width="0.8"/><rect x="715" y="917.78" width="22.6" height="6.6" fill="#b8865f" opacity="0.9"/><line x1="715" y1="916.78" x2="715" y2="925.28" stroke="#6b4a36" stroke-width="0.8"/><rect x="715" y="970.66" width="22.6" height="6.6" fill="#b8865f" opacity="0.9"/><line x1="715" y1="969.66" x2="715" y2="978.16" stroke="#6b4a36" stroke-width="0.8"/><rect x="715" y="1023.54" width="22.6" height="6.6" fill="#b8865f" opacity="0.9"/><line x1="715" y1="1022.54" x2="715" y2="1031.04" stroke="#6b4a36" stroke-width="0.8"/><path d="M574.50,819.52 L574.50,561.12 A11.5,11.5 0 0 0 563.00,549.62 L569.00,549.62" fill="none" stroke="#4e4e4e" stroke-width="6.0" stroke-linecap="butt"/><path d="M574.50,819.52 L574.50,561.12 A11.5,11.5 0 0 0 563.00,549.62 L569.00,549.62" fill="none" stroke="#9c9c9c" stroke-width="4.20" stroke-linecap="butt"/><line x1="573.80" y1="561.12" x2="573.80" y2="819.52" stroke="#c4c4c4" stroke-width="1.2"/><rect x="565.50" y="546.42" width="12.50" height="7.20" rx="1.2" fill="#727272" stroke="#2a2a2a" stroke-width="0.8"/><circle cx="569.00" cy="550.02" r="1.3" fill="#111"/><path d="M587.40,872.40 L587.40,614.00 A11.5,11.5 0 0 0 575.90,602.50 L574.50,602.50" fill="none" stroke="#4e4e4e" stroke-width="6.0" stroke-linecap="butt"/><path d="M587.40,872.40 L587.40,614.00 A11.5,11.5 0 0 0 575.90,602.50 L574.50,602.50" fill="none" stroke="#9c9c9c" stroke-width="4.20" stroke-linecap="butt"/><line x1="586.70" y1="614.00" x2="586.70" y2="872.40" stroke="#c4c4c4" stroke-width="1.2"/><rect x="571.00" y="599.30" width="12.50" height="7.20" rx="1.2" fill="#727272" stroke="#2a2a2a" stroke-width="0.8"/><circle cx="574.50" cy="602.90" r="1.3" fill="#111"/><path d="M606.50,925.28 L606.50,666.88 A11.5,11.5 0 0 0 595.00,655.38 L587.40,655.38" fill="none" stroke="#4e4e4e" stroke-width="6.0" stroke-linecap="butt"/><path d="M606.50,925.28 L606.50,666.88 A11.5,11.5 0 0 0 595.00,655.38 L587.40,655.38" fill="none" stroke="#9c9c9c" stroke-width="4.20" stroke-linecap="butt"/><line x1="605.80" y1="666.88" x2="605.80" y2="925.28" stroke="#c4c4c4" stroke-width="1.2"/><rect x="583.90" y="652.18" width="12.50" height="7.20" rx="1.2" fill="#727272" stroke="#2a2a2a" stroke-width="0.8"/><circle cx="587.40" cy="655.78" r="1.3" fill="#111"/><path d="M630.00,978.16 L630.00,719.76 A11.5,11.5 0 0 0 618.50,708.26 L606.50,708.26" fill="none" stroke="#4e4e4e" stroke-width="6.0" stroke-linecap="butt"/><path d="M630.00,978.16 L630.00,719.76 A11.5,11.5 0 0 0 618.50,708.26 L606.50,708.26" fill="none" stroke="#9c9c9c" stroke-width="4.20" stroke-linecap="butt"/><line x1="629.30" y1="719.76" x2="629.30" y2="978.16" stroke="#c4c4c4" stroke-width="1.2"/><rect x="603.00" y="705.06" width="12.50" height="7.20" rx="1.2" fill="#727272" stroke="#2a2a2a" stroke-width="0.8"/><circle cx="606.50" cy="708.66" r="1.3" fill="#111"/><path d="M658.00,1031.04 L658.00,772.64 A11.5,11.5 0 0 0 646.50,761.14 L630.00,761.14" fill="none" stroke="#4e4e4e" stroke-width="6.0" stroke-linecap="butt"/><path d="M658.00,1031.04 L658.00,772.64 A11.5,11.5 0 0 0 646.50,761.14 L630.00,761.14" fill="none" stroke="#9c9c9c" stroke-width="4.20" stroke-linecap="butt"/><line x1="657.30" y1="772.64" x2="657.30" y2="1031.04" stroke="#c4c4c4" stroke-width="1.2"/><rect x="626.50" y="757.94" width="12.50" height="7.20" rx="1.2" fill="#727272" stroke="#2a2a2a" stroke-width="0.8"/><circle cx="630.00" cy="761.54" r="1.3" fill="#111"/><path d="M694.40,396.48 L706.40,396.48 L704.90,400.98 L695.90,400.98 Z" fill="#8c8c8c" stroke="#3a3a3a" stroke-width="0.8"/><path d="M694.40,343.60 L706.40,343.60 L704.90,348.10 L695.90,348.10 Z" fill="#8c8c8c" stroke="#3a3a3a" stroke-width="0.8"/><path d="M662.30,449.36 L674.30,449.36 L672.80,453.86 L663.80,453.86 Z" fill="#8c8c8c" stroke="#3a3a3a" stroke-width="0.8"/><path d="M662.30,396.48 L674.30,396.48 L672.80,400.98 L663.80,400.98 Z" fill="#8c8c8c" stroke="#3a3a3a" stroke-width="0.8"/><path d="M633.00,502.24 L645.00,502.24 L643.50,506.74 L634.50,506.74 Z" fill="#8c8c8c" stroke="#3a3a3a" stroke-width="0.8"/><path d="M633.00,449.36 L645.00,449.36 L643.50,453.86 L634.50,453.86 Z" fill="#8c8c8c" stroke="#3a3a3a" stroke-width="0.8"/><path d="M608.40,555.12 L620.40,555.12 L618.90,559.62 L609.90,559.62 Z" fill="#8c8c8c" stroke="#3a3a3a" stroke-width="0.8"/><path d="M608.40,502.24 L620.40,502.24 L618.90,506.74 L609.90,506.74 Z" fill="#8c8c8c" stroke="#3a3a3a" stroke-width="0.8"/><path d="M586.50,608.00 L598.50,608.00 L597.00,612.50 L588.00,612.50 Z" fill="#8c8c8c" stroke="#3a3a3a" stroke-width="0.8"/><path d="M586.50,555.12 L598.50,555.12 L597.00,559.62 L588.00,559.62 Z" fill="#8c8c8c" stroke="#3a3a3a" stroke-width="0.8"/><path d="M573.00,608.00 L585.00,608.00 L583.50,612.50 L574.50,612.50 Z" fill="#8c8c8c" stroke="#3a3a3a" stroke-width="0.8"/><path d="M573.00,555.12 L585.00,555.12 L583.50,559.62 L574.50,559.62 Z" fill="#8c8c8c" stroke="#3a3a3a" stroke-width="0.8"/><path d="M563.00,766.64 L575.00,766.64 L573.50,771.14 L564.50,771.14 Z" fill="#8c8c8c" stroke="#3a3a3a" stroke-width="0.8"/><path d="M563.00,713.76 L575.00,713.76 L573.50,718.26 L564.50,718.26 Z" fill="#8c8c8c" stroke="#3a3a3a" stroke-width="0.8"/><path d="M568.50,819.52 L580.50,819.52 L579.00,824.02 L570.00,824.02 Z" fill="#8c8c8c" stroke="#3a3a3a" stroke-width="0.8"/><path d="M568.50,766.64 L580.50,766.64 L579.00,771.14 L570.00,771.14 Z" fill="#8c8c8c" stroke="#3a3a3a" stroke-width="0.8"/><path d="M581.40,872.40 L593.40,872.40 L591.90,876.90 L582.90,876.90 Z" fill="#8c8c8c" stroke="#3a3a3a" stroke-width="0.8"/><path d="M581.40,819.52 L593.40,819.52 L591.90,824.02 L582.90,824.02 Z" fill="#8c8c8c" stroke="#3a3a3a" stroke-width="0.8"/><path d="M600.50,925.28 L612.50,925.28 L611.00,929.78 L602.00,929.78 Z" fill="#8c8c8c" stroke="#3a3a3a" stroke-width="0.8"/><path d="M600.50,872.40 L612.50,872.40 L611.00,876.90 L602.00,876.90 Z" fill="#8c8c8c" stroke="#3a3a3a" stroke-width="0.8"/><path d="M624.00,978.16 L636.00,978.16 L634.50,982.66 L625.50,982.66 Z" fill="#8c8c8c" stroke="#3a3a3a" stroke-width="0.8"/><path d="M624.00,925.28 L636.00,925.28 L634.50,929.78 L625.50,929.78 Z" fill="#8c8c8c" stroke="#3a3a3a" stroke-width="0.8"/><path d="M652.00,1031.04 L664.00,1031.04 L662.50,1035.54 L653.50,1035.54 Z" fill="#8c8c8c" stroke="#3a3a3a" stroke-width="0.8"/><path d="M652.00,978.16 L664.00,978.16 L662.50,982.66 L653.50,982.66 Z" fill="#8c8c8c" stroke="#3a3a3a" stroke-width="0.8"/><path d="M924.5,817.7 A380,380 0 0 1 1676.5,924 L1522,924 A90,90 0 0 0 1404,924 L1257.8,924 L1257.8,913.3 L1186.5,893 A96,96 0 0 0 1070.7,859.7 Z" fill="#b78b6e" stroke="#5a4636" stroke-width="1"/><defs><clipPath id="fanclip"><path d="M924.5,817.7 A380,380 0 0 1 1676.5,924 L1522,924 A90,90 0 0 0 1404,924 L1257.8,924 L1257.8,913.3 L1186.5,893 A96,96 0 0 0 1070.7,859.7 Z"/></clipPath>
<filter id="grain" x="0" y="0" width="1" height="1" filterUnits="objectBoundingBox" color-interpolation-filters="sRGB">
<feTurbulence type="fractalNoise" baseFrequency="0.24 0.018" numOctaves="3" seed="11"/>
<feColorMatrix type="matrix" values="0.1866 0 0 0 0.6244  0.1417 0 0 0 0.4742  0.1122 0 0 0 0.3753  0 0 0 0 1"/>
</filter></defs><g clip-path="url(#fanclip)"><clipPath id="wc0"><polygon points="1297.8,893.0 837.8,903.0 838.6,865.7 841.0,838.9 844.9,812.3 850.4,786.0 857.4,760.0 866.0,734.5 876.0,709.6"/></clipPath><g clip-path="url(#wc0)"><rect x="-130" y="-440" width="260" height="480" filter="url(#grain)" transform="translate(1297.8,893.0) rotate(-72.55)"/></g><clipPath id="wc1"><polygon points="1297.8,893.0 876.0,709.6 882.7,694.8 889.9,680.4 897.6,666.1 905.9,652.2 914.6,638.6 923.8,625.2"/></clipPath><g clip-path="url(#wc1)"><rect x="-130" y="-440" width="260" height="480" filter="url(#grain)" transform="translate(1297.8,893.0) rotate(-60.45)"/></g><clipPath id="wc2"><polygon points="1297.8,893.0 923.8,625.2 933.4,612.2 943.5,599.6 954.1,587.3 965.1,575.4 976.4,563.9 988.2,552.8"/></clipPath><g clip-path="url(#wc2)"><rect x="-130" y="-440" width="260" height="480" filter="url(#grain)" transform="translate(1297.8,893.0) rotate(-48.35)"/></g><clipPath id="wc3"><polygon points="1297.8,893.0 988.2,552.8 1000.4,542.1 1012.9,531.8 1025.8,522.0 1039.0,512.7 1052.6,503.8 1066.4,495.4"/></clipPath><g clip-path="url(#wc3)"><rect x="-130" y="-440" width="260" height="480" filter="url(#grain)" transform="translate(1297.8,893.0) rotate(-36.25)"/></g><clipPath id="wc4"><polygon points="1297.8,893.0 1066.4,495.4 1080.5,487.5 1094.9,480.1 1109.6,473.3 1124.5,466.9 1139.6,461.1 1154.9,455.8"/></clipPath><g clip-path="url(#wc4)"><rect x="-130" y="-440" width="260" height="480" filter="url(#grain)" transform="translate(1297.8,893.0) rotate(-24.15)"/></g><clipPath id="wc5"><polygon points="1297.8,893.0 1154.9,455.8 1170.4,451.0 1186.0,446.8 1201.8,443.1 1217.7,440.0 1233.6,437.5 1249.7,435.5"/></clipPath><g clip-path="url(#wc5)"><rect x="-130" y="-440" width="260" height="480" filter="url(#grain)" transform="translate(1297.8,893.0) rotate(-12.05)"/></g><clipPath id="wc6"><polygon points="1297.8,893.0 1249.7,435.5 1265.8,434.1 1282.0,433.3 1298.2,433.0 1314.4,433.3 1330.6,434.2 1346.7,435.6"/></clipPath><g clip-path="url(#wc6)"><rect x="-130" y="-440" width="260" height="480" filter="url(#grain)" transform="translate(1297.8,893.0) rotate(0.05)"/></g><clipPath id="wc7"><polygon points="1297.8,893.0 1346.7,435.6 1362.7,437.6 1378.7,440.2 1394.6,443.3 1410.4,447.0 1426.0,451.2 1441.5,456.0"/></clipPath><g clip-path="url(#wc7)"><rect x="-130" y="-440" width="260" height="480" filter="url(#grain)" transform="translate(1297.8,893.0) rotate(12.15)"/></g><clipPath id="wc8"><polygon points="1297.8,893.0 1441.5,456.0 1456.8,461.3 1471.9,467.2 1486.7,473.6 1501.4,480.5 1515.8,487.9 1529.9,495.8"/></clipPath><g clip-path="url(#wc8)"><rect x="-130" y="-440" width="260" height="480" filter="url(#grain)" transform="translate(1297.8,893.0) rotate(24.25)"/></g><clipPath id="wc9"><polygon points="1297.8,893.0 1529.9,495.8 1543.7,504.3 1557.2,513.1 1570.4,522.5 1583.3,532.3 1595.8,542.6 1608.0,553.3"/></clipPath><g clip-path="url(#wc9)"><rect x="-130" y="-440" width="260" height="480" filter="url(#grain)" transform="translate(1297.8,893.0) rotate(36.35)"/></g><clipPath id="wc10"><polygon points="1297.8,893.0 1608.0,553.3 1619.7,564.4 1631.1,576.0 1642.1,587.9 1652.6,600.2 1662.7,612.9 1672.3,625.9"/></clipPath><g clip-path="url(#wc10)"><rect x="-130" y="-440" width="260" height="480" filter="url(#grain)" transform="translate(1297.8,893.0) rotate(48.45)"/></g><clipPath id="wc11"><polygon points="1297.8,893.0 1672.3,625.9 1681.5,639.2 1690.2,652.9 1698.4,666.8 1706.1,681.1 1713.3,695.6 1720.0,710.3"/></clipPath><g clip-path="url(#wc11)"><rect x="-130" y="-440" width="260" height="480" filter="url(#grain)" transform="translate(1297.8,893.0) rotate(60.55)"/></g><clipPath id="wc12"><polygon points="1297.8,893.0 1720.0,710.3 1726.1,725.3 1731.8,740.5 1736.9,755.8 1741.4,771.4 1745.4,787.0 1748.9,802.9"/></clipPath><g clip-path="url(#wc12)"><rect x="-130" y="-440" width="260" height="480" filter="url(#grain)" transform="translate(1297.8,893.0) rotate(72.65)"/></g><clipPath id="wc13"><polygon points="1297.8,893.0 1748.9,802.9 1753.7,832.0 1756.7,861.4 1757.8,891.0 1757.0,920.5 1754.3,950.0 1749.7,979.2 1757.8,953.0 1297.8,953.0"/></clipPath><g clip-path="url(#wc13)"><rect x="-130" y="-440" width="260" height="480" filter="url(#grain)" transform="translate(1297.8,893.0) rotate(84.75)"/></g></g><path d="M924.5,817.7 A380,380 0 0 1 1676.5,924 L1522,924 A90,90 0 0 0 1404,924 L1257.8,924 L1257.8,913.3 L1186.5,893 A96,96 0 0 0 1070.7,859.7 Z" fill="none" stroke="#5a4636" stroke-width="1"/><path d="M946.20,740.50 L976.90,755.80 C979.08,755.50 985.02,754.20 990.00,754.00 C994.98,753.80 1004.00,754.50 1006.80,754.60 " fill="none" stroke="#5e3d29" stroke-width="0.95"/><path d="M1059.60,780.40 C1061.10,781.70 1066.20,785.43 1068.60,788.20 C1071.00,790.97 1071.83,792.93 1074.00,797.00 C1076.17,801.07 1080.33,810.00 1081.60,812.60 L1140.90,843.60 L1194.80,874.60 L1260.00,891.00 " fill="none" stroke="#5e3d29" stroke-width="0.95"/><path d="M988.20,671.70 L1103.50,769.50 C1107.48,770.05 1118.92,770.12 1127.40,772.80 C1135.88,775.48 1145.42,778.75 1154.40,785.60 C1163.38,792.45 1174.57,804.68 1181.30,813.90 C1188.03,823.12 1192.10,835.05 1194.80,840.90 C1197.50,846.75 1197.05,847.65 1197.50,849.00 L1260.00,890.50 " fill="none" stroke="#5e3d29" stroke-width="0.95"/><path d="M1042.70,610.50 L1058.00,633.90 L1061.00,636.60 C1064.38,637.50 1076.57,640.22 1081.30,642.00 C1086.03,643.78 1088.05,646.42 1089.40,647.30 " fill="none" stroke="#5e3d29" stroke-width="0.95"/><path d="M1126.30,691.40 C1127.08,692.67 1129.75,695.90 1131.00,699.00 C1132.25,702.10 1133.22,704.87 1133.80,710.00 C1134.38,715.13 1134.38,726.50 1134.50,729.80 L1261.00,889.50 " fill="none" stroke="#5e3d29" stroke-width="0.95"/><path d="M1106.50,565.60 L1172.00,701.80 C1175.33,703.83 1185.67,709.33 1192.00,714.00 C1198.33,718.67 1205.10,723.42 1210.00,729.80 C1214.90,736.18 1218.77,744.80 1221.40,752.30 C1224.03,759.80 1225.12,767.35 1225.80,774.80 C1226.48,782.25 1225.87,791.13 1225.50,797.00 C1225.13,802.87 1223.92,807.83 1223.60,810.00 L1261.50,889.00 " fill="none" stroke="#5e3d29" stroke-width="0.95"/><path d="M1180.20,533.20 L1186.50,561.10 C1188.13,562.58 1192.87,566.40 1196.30,570.00 C1199.73,573.60 1205.30,580.58 1207.10,582.70 " fill="none" stroke="#5e3d29" stroke-width="0.95"/><path d="M1224.30,640.00 C1224.17,641.67 1224.38,646.00 1223.50,650.00 C1222.62,654.00 1220.48,659.33 1219.00,664.00 C1217.52,668.67 1215.33,675.67 1214.60,678.00 L1262.00,888.50 " fill="none" stroke="#5e3d29" stroke-width="0.95"/><path d="M1257.50,514.30 L1262.00,667.00 C1263.33,669.00 1267.23,674.55 1270.00,679.00 C1272.77,683.45 1276.03,685.63 1278.60,693.70 C1281.17,701.77 1285.02,717.30 1285.40,727.40 C1285.78,737.50 1284.28,744.20 1280.90,754.30 C1277.52,764.40 1267.73,782.38 1265.10,788.00 L1264.00,817.00 L1264.50,886.00 " fill="none" stroke="#5e3d29" stroke-width="0.95"/><path d="M1337.50,514.30 L1333.00,544.00 C1334.50,547.58 1340.35,560.57 1342.00,565.50 C1343.65,570.43 1342.75,572.25 1342.90,573.60 " fill="none" stroke="#5e3d29" stroke-width="0.95"/><path d="M1333.90,632.00 C1333.08,633.83 1331.32,639.50 1329.00,643.00 C1326.68,646.50 1323.17,650.00 1320.00,653.00 C1316.83,656.00 1311.67,659.67 1310.00,661.00 L1271.50,872.00 " fill="none" stroke="#5e3d29" stroke-width="0.95"/><path d="M1415.00,532.30 L1358.00,670.00 C1357.92,671.33 1356.88,672.17 1357.50,678.00 C1358.12,683.83 1361.75,694.90 1361.70,705.00 C1361.65,715.10 1360.93,728.50 1357.20,738.60 C1353.47,748.70 1346.78,758.48 1339.30,765.60 C1331.82,772.72 1317.55,777.93 1312.30,781.30 C1307.05,784.67 1308.55,785.05 1307.80,785.80 L1274.00,869.00 " fill="none" stroke="#5e3d29" stroke-width="0.95"/><path d="M1487.80,564.70 L1472.50,588.00 L1471.60,600.60 C1471.50,602.33 1471.43,607.70 1471.00,611.00 C1470.57,614.30 1469.33,618.83 1469.00,620.40 " fill="none" stroke="#5e3d29" stroke-width="0.95"/><path d="M1438.40,668.90 C1437.00,669.92 1433.15,672.90 1430.00,675.00 C1426.85,677.10 1423.93,679.33 1419.50,681.50 C1415.07,683.67 1406.08,686.92 1403.40,688.00 L1276.00,869.00 " fill="none" stroke="#5e3d29" stroke-width="0.95"/><path d="M1553.40,612.30 L1445.00,712.00 C1444.60,713.07 1443.77,713.97 1442.60,718.40 C1441.43,722.83 1441.77,729.62 1438.00,738.60 C1434.23,747.58 1427.83,763.68 1420.00,772.30 C1412.17,780.92 1401.83,786.18 1391.00,790.30 C1380.17,794.42 1361.00,795.88 1355.00,797.00 L1278.60,866.60 " fill="none" stroke="#5e3d29" stroke-width="0.95"/><path d="M1607.30,672.60 L1581.50,687.20 L1577.00,698.40 C1576.33,699.83 1574.87,704.20 1573.00,707.00 C1571.13,709.80 1567.00,713.83 1565.80,715.20 " fill="none" stroke="#5e3d29" stroke-width="0.95"/><path d="M1516.40,747.40 C1513.67,747.58 1506.57,747.90 1500.00,748.50 C1493.43,749.10 1480.83,750.58 1477.00,751.00 L1440.00,770.30 L1281.00,864.40 " fill="none" stroke="#5e3d29" stroke-width="0.95"/><path d="M1645.50,742.20 L1505.00,788.20 C1503.50,790.45 1500.50,796.45 1496.00,801.70 C1491.50,806.95 1485.67,814.65 1478.00,819.70 C1470.33,824.75 1458.83,829.42 1450.00,832.00 C1441.17,834.58 1432.17,835.28 1425.00,835.20 C1417.83,835.12 1413.00,832.37 1407.00,831.50 C1401.00,830.63 1397.30,829.00 1389.00,830.00 C1380.70,831.00 1362.50,836.25 1357.20,837.50 L1290.00,860.00 L1263.00,888.00 " fill="none" stroke="#5e3d29" stroke-width="0.95"/><path d="M1670.20,818.60 L1640.00,820.80 C1638.00,822.17 1632.13,825.88 1628.00,829.00 C1623.87,832.12 1617.33,837.75 1615.20,839.50 " fill="none" stroke="#5e3d29" stroke-width="0.95"/><path d="M1556.80,850.00 C1554.00,848.83 1545.97,845.43 1540.00,843.00 C1534.03,840.57 1524.17,836.67 1521.00,835.40 L1440.00,844.40 L1285.40,864.40 L1263.00,888.00 " fill="none" stroke="#5e3d29" stroke-width="0.95"/><path d="M1006.80,754.60 Q1028.37,777.38 1059.60,780.40 Q1038.03,757.62 1006.80,754.60 Z" fill="#fff" stroke="#4a3628" stroke-width="0.9"/><path d="M1089.40,647.30 Q1098.65,677.05 1126.30,691.40 Q1117.05,661.65 1089.40,647.30 Z" fill="#fff" stroke="#4a3628" stroke-width="0.9"/><path d="M1207.10,582.70 Q1203.73,614.94 1224.30,640.00 Q1227.67,607.76 1207.10,582.70 Z" fill="#fff" stroke="#4a3628" stroke-width="0.9"/><path d="M1342.90,573.60 Q1326.05,600.90 1333.90,632.00 Q1350.75,604.70 1342.90,573.60 Z" fill="#fff" stroke="#4a3628" stroke-width="0.9"/><path d="M1469.00,620.40 Q1442.28,637.45 1438.40,668.90 Q1465.12,651.85 1469.00,620.40 Z" fill="#fff" stroke="#4a3628" stroke-width="0.9"/><path d="M1565.80,715.20 Q1533.73,719.99 1516.40,747.40 Q1548.47,742.61 1565.80,715.20 Z" fill="#fff" stroke="#4a3628" stroke-width="0.9"/><path d="M1615.20,839.50 Q1583.88,832.94 1556.80,850.00 Q1588.12,856.56 1615.20,839.50 Z" fill="#fff" stroke="#4a3628" stroke-width="0.9"/><path d="M1257.8,924 L1257.8,893 A40,26.3 0 0 1 1337.8,893 L1337.8,924 Z" fill="#a2a2a2" stroke="#4f4f4f" stroke-width="1"/><line x1="1258.5" y1="923" x2="1337" y2="923" stroke="#666" stroke-width="2"/><rect x="1482" y="921" width="40" height="3" fill="#9a9a9a" stroke="#555" stroke-width="0.6"/><rect x="1500" y="911" width="3" height="10" fill="#b0b0b0" stroke="#555" stroke-width="0.6"/><circle cx="985.20" cy="654.00" r="8.5" fill="#7c7c7c" stroke="#3a3a3a" stroke-width="0.9"/><circle cx="1042.24" cy="593.78" r="8.5" fill="#7c7c7c" stroke="#3a3a3a" stroke-width="0.9"/><circle cx="1110.64" cy="546.86" r="8.5" fill="#7c7c7c" stroke="#3a3a3a" stroke-width="0.9"/><circle cx="1187.36" cy="515.32" r="8.5" fill="#7c7c7c" stroke="#3a3a3a" stroke-width="0.9"/><circle cx="1268.98" cy="500.56" r="8.5" fill="#7c7c7c" stroke="#3a3a3a" stroke-width="0.9"/><circle cx="1351.88" cy="503.23" r="8.5" fill="#7c7c7c" stroke="#3a3a3a" stroke-width="0.9"/><circle cx="1432.38" cy="523.23" r="8.5" fill="#7c7c7c" stroke="#3a3a3a" stroke-width="0.9"/><circle cx="1506.91" cy="559.66" r="8.5" fill="#7c7c7c" stroke="#3a3a3a" stroke-width="0.9"/><circle cx="1572.13" cy="610.90" r="8.5" fill="#7c7c7c" stroke="#3a3a3a" stroke-width="0.9"/><circle cx="1625.17" cy="674.67" r="8.5" fill="#7c7c7c" stroke="#3a3a3a" stroke-width="0.9"/><circle cx="1663.67" cy="748.14" r="8.5" fill="#7c7c7c" stroke="#3a3a3a" stroke-width="0.9"/><circle cx="1685.90" cy="828.05" r="8.5" fill="#7c7c7c" stroke="#3a3a3a" stroke-width="0.9"/><path d="M946.11,726.76 A389.0,389.0 0 0 1 971.56,681.14" fill="none" stroke="#3c3c3c" stroke-width="14"/><path d="M946.11,726.76 A389.0,389.0 0 0 1 971.56,681.14" fill="none" stroke="url(#grail)" stroke-width="12"/><path d="M946.56,726.97 A388.5,388.5 0 0 1 971.98,681.41" fill="none" stroke="url(#grailh)" stroke-width="4"/><circle cx="946.11" cy="726.76" r="6.3" fill="#5a5a5a" stroke="#333" stroke-width="0.8"/><path d="M988.77,656.73 A389.0,389.0 0 0 1 1023.22,617.46" fill="none" stroke="#3c3c3c" stroke-width="14"/><path d="M988.77,656.73 A389.0,389.0 0 0 1 1023.22,617.46" fill="none" stroke="url(#grail)" stroke-width="12"/><path d="M989.17,657.03 A388.5,388.5 0 0 1 1023.57,617.81" fill="none" stroke="url(#grailh)" stroke-width="4"/><circle cx="988.77" cy="656.73" r="6.3" fill="#5a5a5a" stroke="#333" stroke-width="0.8"/><path d="M1045.16,597.20 A389.0,389.0 0 0 1 1087.08,566.02" fill="none" stroke="#3c3c3c" stroke-width="14"/><path d="M1045.16,597.20 A389.0,389.0 0 0 1 1087.08,566.02" fill="none" stroke="url(#grail)" stroke-width="12"/><path d="M1045.49,597.58 A388.5,388.5 0 0 1 1087.35,566.44" fill="none" stroke="url(#grailh)" stroke-width="4"/><circle cx="1045.16" cy="597.20" r="6.3" fill="#5a5a5a" stroke="#333" stroke-width="0.8"/><path d="M1112.78,550.82 A389.0,389.0 0 0 1 1160.30,529.11" fill="none" stroke="#3c3c3c" stroke-width="14"/><path d="M1112.78,550.82 A389.0,389.0 0 0 1 1160.30,529.11" fill="none" stroke="url(#grail)" stroke-width="12"/><path d="M1113.02,551.26 A388.5,388.5 0 0 1 1160.48,529.58" fill="none" stroke="url(#grailh)" stroke-width="4"/><circle cx="1112.78" cy="550.82" r="6.3" fill="#5a5a5a" stroke="#333" stroke-width="0.8"/><path d="M1188.62,519.64 A389.0,389.0 0 0 1 1239.63,508.37" fill="none" stroke="#3c3c3c" stroke-width="14"/><path d="M1188.62,519.64 A389.0,389.0 0 0 1 1239.63,508.37" fill="none" stroke="url(#grail)" stroke-width="12"/><path d="M1188.76,520.12 A388.5,388.5 0 0 1 1239.71,508.87" fill="none" stroke="url(#grailh)" stroke-width="4"/><circle cx="1188.62" cy="519.64" r="6.3" fill="#5a5a5a" stroke="#333" stroke-width="0.8"/><path d="M1269.31,505.04 A389.0,389.0 0 0 1 1321.55,504.73" fill="none" stroke="#3c3c3c" stroke-width="14"/><path d="M1269.31,505.04 A389.0,389.0 0 0 1 1321.55,504.73" fill="none" stroke="url(#grail)" stroke-width="12"/><path d="M1269.35,505.54 A388.5,388.5 0 0 1 1321.52,505.22" fill="none" stroke="url(#grailh)" stroke-width="4"/><circle cx="1269.31" cy="505.04" r="6.3" fill="#5a5a5a" stroke="#333" stroke-width="0.8"/><path d="M1351.27,507.69 A389.0,389.0 0 0 1 1402.41,518.33" fill="none" stroke="#3c3c3c" stroke-width="14"/><path d="M1351.27,507.69 A389.0,389.0 0 0 1 1402.41,518.33" fill="none" stroke="url(#grail)" stroke-width="12"/><path d="M1351.20,508.19 A388.5,388.5 0 0 1 1402.28,518.81" fill="none" stroke="url(#grailh)" stroke-width="4"/><circle cx="1351.27" cy="507.69" r="6.3" fill="#5a5a5a" stroke="#333" stroke-width="0.8"/><path d="M1430.85,527.46 A389.0,389.0 0 0 1 1478.62,548.58" fill="none" stroke="#3c3c3c" stroke-width="14"/><path d="M1430.85,527.46 A389.0,389.0 0 0 1 1478.62,548.58" fill="none" stroke="url(#grail)" stroke-width="12"/><path d="M1430.67,527.93 A388.5,388.5 0 0 1 1478.39,549.02" fill="none" stroke="url(#grailh)" stroke-width="4"/><circle cx="1430.85" cy="527.46" r="6.3" fill="#5a5a5a" stroke="#333" stroke-width="0.8"/><path d="M1504.51,563.47 A389.0,389.0 0 0 1 1546.80,594.14" fill="none" stroke="#3c3c3c" stroke-width="14"/><path d="M1504.51,563.47 A389.0,389.0 0 0 1 1546.80,594.14" fill="none" stroke="url(#grail)" stroke-width="12"/><path d="M1504.25,563.89 A388.5,388.5 0 0 1 1546.48,594.52" fill="none" stroke="url(#grailh)" stroke-width="4"/><circle cx="1504.51" cy="563.47" r="6.3" fill="#5a5a5a" stroke="#333" stroke-width="0.8"/><path d="M1569.00,614.12 A389.0,389.0 0 0 1 1603.92,652.97" fill="none" stroke="#3c3c3c" stroke-width="14"/><path d="M1569.00,614.12 A389.0,389.0 0 0 1 1603.92,652.97" fill="none" stroke="url(#grail)" stroke-width="12"/><path d="M1568.65,614.48 A388.5,388.5 0 0 1 1603.52,653.28" fill="none" stroke="url(#grailh)" stroke-width="4"/><circle cx="1569.00" cy="614.12" r="6.3" fill="#5a5a5a" stroke="#333" stroke-width="0.8"/><path d="M1621.43,677.17 A389.0,389.0 0 0 1 1647.43,722.47" fill="none" stroke="#3c3c3c" stroke-width="14"/><path d="M1621.43,677.17 A389.0,389.0 0 0 1 1647.43,722.47" fill="none" stroke="url(#grail)" stroke-width="12"/><path d="M1621.01,677.44 A388.5,388.5 0 0 1 1646.98,722.69" fill="none" stroke="url(#grailh)" stroke-width="4"/><circle cx="1621.43" cy="677.17" r="6.3" fill="#5a5a5a" stroke="#333" stroke-width="0.8"/><path d="M1659.48,749.80 A389.0,389.0 0 0 1 1675.41,799.55" fill="none" stroke="#3c3c3c" stroke-width="14"/><path d="M1659.48,749.80 A389.0,389.0 0 0 1 1675.41,799.55" fill="none" stroke="url(#grail)" stroke-width="12"/><path d="M1659.02,749.98 A388.5,388.5 0 0 1 1674.92,799.67" fill="none" stroke="url(#grailh)" stroke-width="4"/><circle cx="1659.48" cy="749.80" r="6.3" fill="#5a5a5a" stroke="#333" stroke-width="0.8"/><path d="M1681.47,828.80 A389.0,389.0 0 0 1 1686.68,902.50" fill="none" stroke="#3c3c3c" stroke-width="14"/><path d="M1681.47,828.80 A389.0,389.0 0 0 1 1686.68,902.50" fill="none" stroke="url(#grail)" stroke-width="12"/><path d="M1680.97,828.88 A388.5,388.5 0 0 1 1686.18,902.49" fill="none" stroke="url(#grailh)" stroke-width="4"/><circle cx="1681.47" cy="828.80" r="6.3" fill="#5a5a5a" stroke="#333" stroke-width="0.8"/><path d="M964.85,676.78 L978.27,685.49 L989.52,664.05 L981.49,658.09 Z" fill="#8e8e8e" stroke="#333" stroke-width="0.9"/><path d="M967.36,678.41 L985.50,661.07 M975.75,683.86 L985.50,661.07 M971.56,681.14 L985.50,661.07" stroke="#4a4a4a" stroke-width="0.7"/><path d="M1017.57,611.79 L1028.86,623.12 L1044.36,604.51 L1037.76,597.00 Z" fill="#8e8e8e" stroke="#333" stroke-width="0.9"/><path d="M1019.69,613.91 L1041.06,600.76 M1026.75,621.00 L1041.06,600.76 M1023.22,617.46 L1041.06,600.76" stroke="#4a4a4a" stroke-width="0.7"/><path d="M1082.74,559.30 L1091.41,572.74 L1110.46,557.80 L1105.58,549.07 Z" fill="#8e8e8e" stroke="#333" stroke-width="0.9"/><path d="M1084.37,561.82 L1108.02,553.43 M1089.78,570.22 L1108.02,553.43 M1087.08,566.02 L1108.02,553.43" stroke="#4a4a4a" stroke-width="0.7"/><path d="M1157.47,521.63 L1163.13,536.60 L1184.89,525.98 L1181.95,516.42 Z" fill="#8e8e8e" stroke="#333" stroke-width="0.9"/><path d="M1158.53,524.44 L1183.42,521.20 M1162.07,533.79 L1183.42,521.20 M1160.30,529.11 L1183.42,521.20" stroke="#4a4a4a" stroke-width="0.7"/><path d="M1238.43,500.46 L1240.83,516.28 L1264.33,510.46 L1263.46,500.50 Z" fill="#8e8e8e" stroke="#333" stroke-width="0.9"/><path d="M1238.88,503.43 L1263.90,505.48 M1240.38,513.32 L1263.90,505.48 M1239.63,508.37 L1263.90,505.48" stroke="#4a4a4a" stroke-width="0.7"/><path d="M1322.04,496.74 L1321.06,512.71 L1345.26,511.94 L1346.50,502.02 Z" fill="#8e8e8e" stroke="#333" stroke-width="0.9"/><path d="M1321.85,499.73 L1345.88,506.98 M1321.24,509.72 L1345.88,506.98 M1321.55,504.73 L1345.88,506.98" stroke="#4a4a4a" stroke-width="0.7"/><path d="M1404.56,510.62 L1400.26,526.04 L1424.08,530.36 L1427.37,520.92 Z" fill="#8e8e8e" stroke="#333" stroke-width="0.9"/><path d="M1403.75,513.51 L1425.73,525.64 M1401.07,523.15 L1425.73,525.64 M1402.41,518.33 L1425.73,525.64" stroke="#4a4a4a" stroke-width="0.7"/><path d="M1482.34,541.50 L1474.90,555.67 L1497.30,564.89 L1502.49,556.34 Z" fill="#8e8e8e" stroke="#333" stroke-width="0.9"/><path d="M1480.95,544.15 L1499.89,560.62 M1476.30,553.01 L1499.89,560.62 M1478.62,548.58 L1499.89,560.62" stroke="#4a4a4a" stroke-width="0.7"/><path d="M1551.92,587.99 L1541.68,600.28 L1561.64,614.00 L1568.51,606.73 Z" fill="#8e8e8e" stroke="#333" stroke-width="0.9"/><path d="M1550.00,590.30 L1565.08,610.36 M1543.60,597.98 L1565.08,610.36 M1546.80,594.14 L1565.08,610.36" stroke="#4a4a4a" stroke-width="0.7"/><path d="M1610.21,648.04 L1597.62,657.91 L1614.26,675.50 L1622.51,669.84 Z" fill="#8e8e8e" stroke="#333" stroke-width="0.9"/><path d="M1607.85,649.89 L1618.39,672.67 M1599.98,656.06 L1618.39,672.67 M1603.92,652.97 L1618.39,672.67" stroke="#4a4a4a" stroke-width="0.7"/><path d="M1654.62,718.97 L1640.24,725.98 L1652.83,746.67 L1662.07,742.86 Z" fill="#8e8e8e" stroke="#333" stroke-width="0.9"/><path d="M1651.92,720.28 L1657.45,744.76 M1642.94,724.67 L1657.45,744.76 M1647.43,722.47 L1657.45,744.76" stroke="#4a4a4a" stroke-width="0.7"/><path d="M1683.17,797.63 L1667.64,801.47 L1675.61,824.34 L1685.45,822.55 Z" fill="#8e8e8e" stroke="#333" stroke-width="0.9"/><path d="M1680.26,798.35 L1680.53,823.45 M1670.56,800.75 L1680.53,823.45 M1675.41,799.55 L1680.53,823.45" stroke="#4a4a4a" stroke-width="0.7"/><path d="M1693.88,866.00 L1677.92,867.09 L1681.78,897.02 L1691.78,897.13 Z" fill="#8e8e8e" stroke="#333" stroke-width="0.9"/><path d="M1690.89,866.20 L1686.78,897.07 M1680.91,866.88 L1686.78,897.07 M1685.90,866.54 L1686.78,897.07" stroke="#4a4a4a" stroke-width="0.7"/><circle cx="946.11" cy="726.76" r="9.5" fill="#a0a0a0" stroke="#555" stroke-width="0.9"/><circle cx="947.11" cy="725.76" r="6.5" fill="#4e4e4e" stroke="#2a2a2a" stroke-width="0.8"/><circle cx="1690" cy="911" r="9" fill="#8a8a8a" stroke="#3a3a3a" stroke-width="1"/><circle cx="1690" cy="911" r="5.2" fill="#fff" stroke="#3a3a3a" stroke-width="0.8"/><circle cx="1297.8" cy="893" r="4.2" fill="#fff" stroke="#333" stroke-width="1"/><line x1="801.00" y1="490.30" x2="1268.00" y2="490.30" stroke="#3c3c3c" stroke-width="1.0"/><line x1="801.00" y1="924.00" x2="1790.00" y2="924.00" stroke="#3c3c3c" stroke-width="1.0"/><line x1="806.50" y1="490.30" x2="806.50" y2="924.00" stroke="#3c3c3c" stroke-width="1.0"/><polygon points="806.50,490.30 808.90,505.30 804.10,505.30" fill="#000"/><polygon points="806.50,924.00 804.10,909.00 808.90,909.00" fill="#000"/><g fill="none" stroke="#0a0a0a" stroke-width="1.007" stroke-linecap="round" stroke-linejoin="round" transform="rotate(-90 793.80 705.50)"><path d="M0,9.2 L0,10 L4.8,10 C3.4,7 2.1,3.7 1.5,0" transform="matrix(1.4900,0,0.4172,-1.4900,775.77,712.95)"/><path d="M0.5,10 L0.2,5.7 C0.8,6.3 1.6,6.6 2.4,6.6 C3.8,6.6 4.8,5.3 4.8,3.3 C4.8,1.3 3.7,0 2.3,0 C1.3,0 0.5,0.4 0,1.1 M0.5,10 L4.4,10" transform="matrix(1.4900,0,0.4172,-1.4900,787.54,712.95)"/><path d="M2.2,10 L0,2.3 L5.6,2.3 M3.8,4.3 L3.8,0" transform="matrix(1.4900,0,0.4172,-1.4900,799.31,712.95)"/></g><line x1="879.00" y1="816.00" x2="924.50" y2="816.00" stroke="#3c3c3c" stroke-width="1.0"/><line x1="883.40" y1="816.00" x2="883.40" y2="924.00" stroke="#3c3c3c" stroke-width="1.0"/><polygon points="883.40,816.00 885.80,831.00 881.00,831.00" fill="#000"/><polygon points="883.40,924.00 881.00,909.00 885.80,909.00" fill="#000"/><g fill="none" stroke="#0a0a0a" stroke-width="1.020" stroke-linecap="round" stroke-linejoin="round" transform="rotate(-90 871.20 868.00)"><path d="M0,7.0 L2.9,10 L2.9,0" transform="matrix(1.4700,0,0.4116,-1.4700,854.81,875.35)"/><path d="M2.3,10 C1.2,10 0.4,9.2 0.4,7.8 C0.4,6.5 1.2,5.6 2.3,5.6 C3.4,5.6 4.2,6.5 4.2,7.8 C4.2,9.2 3.4,10 2.3,10 Z M2.3,5.6 C1,5.6 0,4.6 0,2.9 C0,1.1 1,0 2.3,0 C3.6,0 4.6,1.1 4.6,2.9 C4.6,4.6 3.6,5.6 2.3,5.6 Z" transform="matrix(1.4700,0,0.4116,-1.4700,864.95,875.35)"/><path d="M0.8,0.4 C1.2,0.1 1.7,0 2.2,0 C3.8,0 4.7,2 4.7,5 L4.7,7.3 C4.7,9 3.7,10 2.4,10 C1,10 0,9 0,7.3 C0,5.6 1,4.4 2.3,4.4 C3.6,4.4 4.6,5.3 4.7,6.7" transform="matrix(1.4700,0,0.4116,-1.4700,876.57,875.35)"/></g><line x1="1160.00" y1="893.00" x2="1297.80" y2="893.00" stroke="#888" stroke-width="1.0"/><line x1="1164.50" y1="858.00" x2="1164.50" y2="960.00" stroke="#3c3c3c" stroke-width="1.0"/><polygon points="1164.50,893.00 1162.10,878.00 1166.90,878.00" fill="#000"/><polygon points="1164.50,924.00 1166.90,939.00 1162.10,939.00" fill="#000"/><g fill="none" stroke="#0a0a0a" stroke-width="1.027" stroke-linecap="round" stroke-linejoin="round" transform="rotate(-90 1152.35 906.75)"><path d="M0.5,10 L0.2,5.7 C0.8,6.3 1.6,6.6 2.4,6.6 C3.8,6.6 4.8,5.3 4.8,3.3 C4.8,1.3 3.7,0 2.3,0 C1.3,0 0.5,0.4 0,1.1 M0.5,10 L4.4,10" transform="matrix(1.4600,0,0.4088,-1.4600,1141.03,914.05)"/><path d="M0.5,10 L0.2,5.7 C0.8,6.3 1.6,6.6 2.4,6.6 C3.8,6.6 4.8,5.3 4.8,3.3 C4.8,1.3 3.7,0 2.3,0 C1.3,0 0.5,0.4 0,1.1 M0.5,10 L4.4,10" transform="matrix(1.4600,0,0.4088,-1.4600,1152.57,914.05)"/></g><line x1="924.50" y1="817.00" x2="924.50" y2="1092.00" stroke="#3c3c3c" stroke-width="1.0"/><line x1="1297.80" y1="893.00" x2="1297.80" y2="998.00" stroke="#3c3c3c" stroke-width="1.0"/><line x1="1700.00" y1="913.00" x2="1700.00" y2="1092.00" stroke="#3c3c3c" stroke-width="1.0"/><line x1="924.50" y1="990.50" x2="1700.00" y2="990.50" stroke="#3c3c3c" stroke-width="1.0"/><polygon points="924.50,990.50 939.50,988.10 939.50,992.90" fill="#000"/><polygon points="1297.80,990.50 1282.80,992.90 1282.80,988.10" fill="#000"/><polygon points="1297.80,990.50 1312.80,988.10 1312.80,992.90" fill="#000"/><polygon points="1700.00,990.50 1685.00,992.90 1685.00,988.10" fill="#000"/><g fill="none" stroke="#0a0a0a" stroke-width="1.020" stroke-linecap="round" stroke-linejoin="round"><path d="M3.9,9.6 C3.4,9.9 2.9,10 2.5,10 C0.9,10 0,8 0,5 L0,2.7 C0,1 1,0 2.3,0 C3.7,0 4.7,1.2 4.7,2.9 C4.7,4.6 3.6,5.8 2.3,5.8 C1.1,5.8 0.1,4.8 0,3.4" transform="matrix(1.4700,0,0.4116,-1.4700,1112.77,985.45)"/><path d="M2.2,10 L0,2.3 L5.6,2.3 M3.8,4.3 L3.8,0" transform="matrix(1.4700,0,0.4116,-1.4700,1124.39,985.45)"/><path d="M0.8,0.4 C1.2,0.1 1.7,0 2.2,0 C3.8,0 4.7,2 4.7,5 L4.7,7.3 C4.7,9 3.7,10 2.4,10 C1,10 0,9 0,7.3 C0,5.6 1,4.4 2.3,4.4 C3.6,4.4 4.6,5.3 4.7,6.7" transform="matrix(1.4700,0,0.4116,-1.4700,1136.00,985.45)"/></g><g fill="none" stroke="#0a0a0a" stroke-width="1.020" stroke-linecap="round" stroke-linejoin="round"><path d="M0,9.2 L0,10 L4.8,10 C3.4,7 2.1,3.7 1.5,0" transform="matrix(1.4700,0,0.4116,-1.4700,1485.32,985.45)"/><path d="M2.35,10 C1,10 0,8 0,5 C0,2 1,0 2.35,0 C3.7,0 4.7,2 4.7,5 C4.7,8 3.7,10 2.35,10 Z" transform="matrix(1.4700,0,0.4116,-1.4700,1496.94,985.45)"/><path d="M2.35,10 C1,10 0,8 0,5 C0,2 1,0 2.35,0 C3.7,0 4.7,2 4.7,5 C4.7,8 3.7,10 2.35,10 Z" transform="matrix(1.4700,0,0.4116,-1.4700,1508.55,985.45)"/></g><line x1="924.50" y1="1085.40" x2="1700.00" y2="1085.40" stroke="#3c3c3c" stroke-width="1.0"/><polygon points="924.50,1085.40 939.50,1083.00 939.50,1087.80" fill="#000"/><polygon points="1700.00,1085.40 1685.00,1087.80 1685.00,1083.00" fill="#000"/><g fill="none" stroke="#0a0a0a" stroke-width="1.020" stroke-linecap="round" stroke-linejoin="round"><path d="M0,7.0 L2.9,10 L2.9,0" transform="matrix(1.4700,0,0.4116,-1.4700,1309.68,1080.45)"/><path d="M0.1,9.9 L2.7,10 C4.1,10 4.8,9 4.8,7.8 C4.8,6.5 3.8,5.6 2.4,5.6 L0.7,5.6 M2.4,5.6 C4,5.6 5,4.5 5,2.8 C5,1 3.8,0 2.2,0 L-0.1,0.1" transform="matrix(1.4700,0,0.4116,-1.4700,1319.82,1080.45)"/><path d="M2.2,10 L0,2.3 L5.6,2.3 M3.8,4.3 L3.8,0" transform="matrix(1.4700,0,0.4116,-1.4700,1331.43,1080.45)"/><path d="M2.3,10 C1.2,10 0.4,9.2 0.4,7.8 C0.4,6.5 1.2,5.6 2.3,5.6 C3.4,5.6 4.2,6.5 4.2,7.8 C4.2,9.2 3.4,10 2.3,10 Z M2.3,5.6 C1,5.6 0,4.6 0,2.9 C0,1.1 1,0 2.3,0 C3.6,0 4.6,1.1 4.6,2.9 C4.6,4.6 3.6,5.6 2.3,5.6 Z" transform="matrix(1.4700,0,0.4116,-1.4700,1343.05,1080.45)"/></g><path d="M822.98,789.23 A489.1,489.1 0 0 1 1782.30,923.80" fill="none" stroke="#3c3c3c" stroke-width="1"/><polygon points="822.98,789.23 824.80,774.15 829.41,775.47" fill="#000"/><polygon points="1782.30,923.80 1779.90,908.80 1784.70,908.80" fill="#000"/><line x1="819.00" y1="788.30" x2="924.50" y2="817.10" stroke="#3c3c3c" stroke-width="1.0"/><line x1="1700.00" y1="924.00" x2="1790.00" y2="924.00" stroke="#3c3c3c" stroke-width="1.0"/><g fill="none" stroke="#0a0a0a" stroke-width="1.020" stroke-linecap="round" stroke-linejoin="round" transform="rotate(8.1 1365.20 426.80)"><path d="M0,7.0 L2.9,10 L2.9,0" transform="matrix(1.4700,0,0.4116,-1.4700,1344.33,434.15)"/><path d="M3.9,9.6 C3.4,9.9 2.9,10 2.5,10 C0.9,10 0,8 0,5 L0,2.7 C0,1 1,0 2.3,0 C3.7,0 4.7,1.2 4.7,2.9 C4.7,4.6 3.6,5.8 2.3,5.8 C1.1,5.8 0.1,4.8 0,3.4" transform="matrix(1.4700,0,0.4116,-1.4700,1354.47,434.15)"/><path d="M2.2,10 L0,2.3 L5.6,2.3 M3.8,4.3 L3.8,0" transform="matrix(1.4700,0,0.4116,-1.4700,1366.08,434.15)"/><path d="M1.5,10 C2.3,10 2.9,9.4 2.9,8.6 C2.9,7.8 2.3,7.2 1.5,7.2 C0.7,7.2 0.1,7.8 0.1,8.6 C0.1,9.4 0.7,10 1.5,10 Z" transform="matrix(1.4700,0,0.4116,-1.4700,1377.69,434.15)"/></g><line x1="1108.70" y1="540.00" x2="1079.00" y2="466.00" stroke="#3c3c3c" stroke-width="1.0"/><line x1="1185.50" y1="507.80" x2="1155.90" y2="435.00" stroke="#3c3c3c" stroke-width="1.0"/><line x1="1080.40" y1="471.30" x2="1155.90" y2="439.50" stroke="#3c3c3c" stroke-width="1.0"/><polygon points="1080.40,471.30 1093.29,463.27 1095.16,467.69" fill="#000"/><polygon points="1155.90,439.50 1143.01,447.53 1141.14,443.11" fill="#000"/><g fill="none" stroke="#0a0a0a" stroke-width="1.020" stroke-linecap="round" stroke-linejoin="round" transform="rotate(-22.8 1112.00 444.50)"><path d="M0,7.0 L2.9,10 L2.9,0" transform="matrix(1.4700,0,0.4116,-1.4700,1095.39,451.85)"/><path d="M2.2,10 L0,2.3 L5.6,2.3 M3.8,4.3 L3.8,0" transform="matrix(1.4700,0,0.4116,-1.4700,1105.53,451.85)"/><path d="M0.1,9.9 L2.7,10 C4.1,10 4.8,9 4.8,7.8 C4.8,6.5 3.8,5.6 2.4,5.6 L0.7,5.6 M2.4,5.6 C4,5.6 5,4.5 5,2.8 C5,1 3.8,0 2.2,0 L-0.1,0.1" transform="matrix(1.4700,0,0.4116,-1.4700,1117.14,451.85)"/></g><g fill="none" stroke="#0a0a0a" stroke-width="0.865" stroke-linecap="round" stroke-linejoin="round"><path d="M0,7.0 L2.9,10 L2.9,0" transform="matrix(2.0800,0,0.5824,-2.0800,961.67,815.30)"/></g><g fill="none" stroke="#0a0a0a" stroke-width="0.865" stroke-linecap="round" stroke-linejoin="round"><path d="M0.1,7.7 C0.3,9.2 1.2,10 2.4,10 C3.7,10 4.6,9.1 4.6,7.7 C4.6,6.5 3.9,5.6 2.9,4.6 L0,0 L4.8,0" transform="matrix(2.0800,0,0.5824,-2.0800,974.80,735.90)"/></g><g fill="none" stroke="#0a0a0a" stroke-width="0.865" stroke-linecap="round" stroke-linejoin="round"><path d="M0.1,9.9 L2.7,10 C4.1,10 4.8,9 4.8,7.8 C4.8,6.5 3.8,5.6 2.4,5.6 L0.7,5.6 M2.4,5.6 C4,5.6 5,4.5 5,2.8 C5,1 3.8,0 2.2,0 L-0.1,0.1" transform="matrix(2.0800,0,0.5824,-2.0800,1018.34,687.40)"/></g><g fill="none" stroke="#0a0a0a" stroke-width="0.865" stroke-linecap="round" stroke-linejoin="round"><path d="M0,7.0 L2.9,10 L2.9,0" transform="matrix(2.0800,0,0.5824,-2.0800,1563.59,894.35)"/><path d="M2.2,10 L0,2.3 L5.6,2.3 M3.8,4.3 L3.8,0" transform="matrix(2.0800,0,0.5824,-2.0800,1577.94,894.35)"/></g><rect x="952.9" y="464.1" width="99.1" height="62.5" fill="rgb(222,22,148)" fill-opacity="0.27"/><polygon points="955.6,526.6 1052,464.1 1052,526.6" fill="#000" fill-opacity="0.08"/><rect x="850" y="526.6" width="202" height="62" fill="rgb(222,22,148)" fill-opacity="0.27"/><polygon points="850,526.6 1040,588.6 850,588.6" fill="#000" fill-opacity="0.08"/><rect x="752.1" y="588.6" width="299.9" height="63.4" fill="rgb(222,22,148)" fill-opacity="0.27"/><polygon points="752.1,652 1040,588.6 1052,588.6 1052,652" fill="#000" fill-opacity="0.08"/></svg></body></html>
